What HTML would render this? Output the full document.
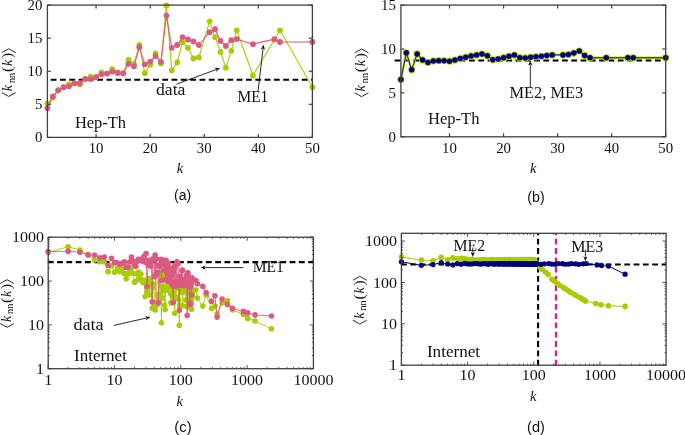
<!DOCTYPE html>
<html><head><meta charset="utf-8"><style>
html,body{margin:0;padding:0;background:#fff;overflow:hidden;}
svg{display:block;filter:blur(0.3px);}
</style></head><body>
<svg width="685" height="435" viewBox="0 0 685 435" fill="#111">
<rect width="685" height="435" fill="#fff"/>
<line x1="50.7" y1="79.8" x2="312.4" y2="79.8" stroke="#000" stroke-width="2.1" stroke-dasharray="5.8 3.5"/>
<polyline points="47.4,103.6 52.81,97.5 58.22,90.6 63.62,87.2 69.03,84.5 74.44,83.3 79.85,84.5 85.26,78.9 90.67,76.7 96.07,77.1 101.48,72.5 106.89,73.6 112.3,69.2 117.71,72.5 123.11,73.3 128.52,59.8 133.93,64 139.34,44.8 144.75,73.2 150.16,64.7 155.56,53.3 160.97,63.4 166.38,5.4 171.79,70.4 177.2,62.5 182.6,42.3 188.01,47.8 193.42,58.5 198.83,57.4 209.64,21.3 215.05,37.1 220.46,51.9 225.87,67.8 231.28,50.8 236.69,30.3 252.91,75.5 274.54,39.5 279.95,30.3 312.4,87.2" fill="none" stroke="#a8cc00" stroke-width="1.1" stroke-linejoin="round" />
<circle cx="47.4" cy="103.6" r="2.9" fill="#a8cc00" />
<circle cx="52.81" cy="97.5" r="2.9" fill="#a8cc00" />
<circle cx="58.22" cy="90.6" r="2.9" fill="#a8cc00" />
<circle cx="63.62" cy="87.2" r="2.9" fill="#a8cc00" />
<circle cx="69.03" cy="84.5" r="2.9" fill="#a8cc00" />
<circle cx="74.44" cy="83.3" r="2.9" fill="#a8cc00" />
<circle cx="79.85" cy="84.5" r="2.9" fill="#a8cc00" />
<circle cx="85.26" cy="78.9" r="2.9" fill="#a8cc00" />
<circle cx="90.67" cy="76.7" r="2.9" fill="#a8cc00" />
<circle cx="96.07" cy="77.1" r="2.9" fill="#a8cc00" />
<circle cx="101.48" cy="72.5" r="2.9" fill="#a8cc00" />
<circle cx="106.89" cy="73.6" r="2.9" fill="#a8cc00" />
<circle cx="112.3" cy="69.2" r="2.9" fill="#a8cc00" />
<circle cx="117.71" cy="72.5" r="2.9" fill="#a8cc00" />
<circle cx="123.11" cy="73.3" r="2.9" fill="#a8cc00" />
<circle cx="128.52" cy="59.8" r="2.9" fill="#a8cc00" />
<circle cx="133.93" cy="64" r="2.9" fill="#a8cc00" />
<circle cx="139.34" cy="44.8" r="2.9" fill="#a8cc00" />
<circle cx="144.75" cy="73.2" r="2.9" fill="#a8cc00" />
<circle cx="150.16" cy="64.7" r="2.9" fill="#a8cc00" />
<circle cx="155.56" cy="53.3" r="2.9" fill="#a8cc00" />
<circle cx="160.97" cy="63.4" r="2.9" fill="#a8cc00" />
<circle cx="166.38" cy="5.4" r="2.9" fill="#a8cc00" />
<circle cx="171.79" cy="70.4" r="2.9" fill="#a8cc00" />
<circle cx="177.2" cy="62.5" r="2.9" fill="#a8cc00" />
<circle cx="182.6" cy="42.3" r="2.9" fill="#a8cc00" />
<circle cx="188.01" cy="47.8" r="2.9" fill="#a8cc00" />
<circle cx="193.42" cy="58.5" r="2.9" fill="#a8cc00" />
<circle cx="198.83" cy="57.4" r="2.9" fill="#a8cc00" />
<circle cx="209.64" cy="21.3" r="2.9" fill="#a8cc00" />
<circle cx="215.05" cy="37.1" r="2.9" fill="#a8cc00" />
<circle cx="220.46" cy="51.9" r="2.9" fill="#a8cc00" />
<circle cx="225.87" cy="67.8" r="2.9" fill="#a8cc00" />
<circle cx="231.28" cy="50.8" r="2.9" fill="#a8cc00" />
<circle cx="236.69" cy="30.3" r="2.9" fill="#a8cc00" />
<circle cx="252.91" cy="75.5" r="2.9" fill="#a8cc00" />
<circle cx="274.54" cy="39.5" r="2.9" fill="#a8cc00" />
<circle cx="279.95" cy="30.3" r="2.9" fill="#a8cc00" />
<circle cx="312.4" cy="87.2" r="2.9" fill="#a8cc00" />
<polyline points="47.4,108.2 52.81,96.5 58.22,90.1 63.62,87.2 69.03,86.3 74.44,83.3 79.85,83.1 85.26,78.9 90.67,79.1 96.07,77.1 101.48,74.3 106.89,73.6 112.3,71.6 117.71,73 123.11,73.3 128.52,63.8 133.93,66.3 139.34,47.2 144.75,64.3 150.16,61.6 155.56,56.1 160.97,61.8 166.38,15.6 171.79,47.8 177.2,45 182.6,37.1 188.01,39.5 193.42,41.5 198.83,45 209.64,32.2 215.05,29.2 220.46,40.9 225.87,46 231.28,40.2 236.69,39.1 252.91,44.2 274.54,39.1 279.95,42 312.4,42" fill="none" stroke="#da5a82" stroke-width="1.1" stroke-linejoin="round" />
<circle cx="47.4" cy="108.2" r="2.9" fill="#da5a82" />
<circle cx="52.81" cy="96.5" r="2.9" fill="#da5a82" />
<circle cx="58.22" cy="90.1" r="2.9" fill="#da5a82" />
<circle cx="63.62" cy="87.2" r="2.9" fill="#da5a82" />
<circle cx="69.03" cy="86.3" r="2.9" fill="#da5a82" />
<circle cx="74.44" cy="83.3" r="2.9" fill="#da5a82" />
<circle cx="79.85" cy="83.1" r="2.9" fill="#da5a82" />
<circle cx="85.26" cy="78.9" r="2.9" fill="#da5a82" />
<circle cx="90.67" cy="79.1" r="2.9" fill="#da5a82" />
<circle cx="96.07" cy="77.1" r="2.9" fill="#da5a82" />
<circle cx="101.48" cy="74.3" r="2.9" fill="#da5a82" />
<circle cx="106.89" cy="73.6" r="2.9" fill="#da5a82" />
<circle cx="112.3" cy="71.6" r="2.9" fill="#da5a82" />
<circle cx="117.71" cy="73" r="2.9" fill="#da5a82" />
<circle cx="123.11" cy="73.3" r="2.9" fill="#da5a82" />
<circle cx="128.52" cy="63.8" r="2.9" fill="#da5a82" />
<circle cx="133.93" cy="66.3" r="2.9" fill="#da5a82" />
<circle cx="139.34" cy="47.2" r="2.9" fill="#da5a82" />
<circle cx="144.75" cy="64.3" r="2.9" fill="#da5a82" />
<circle cx="150.16" cy="61.6" r="2.9" fill="#da5a82" />
<circle cx="155.56" cy="56.1" r="2.9" fill="#da5a82" />
<circle cx="160.97" cy="61.8" r="2.9" fill="#da5a82" />
<circle cx="166.38" cy="15.6" r="2.9" fill="#da5a82" />
<circle cx="171.79" cy="47.8" r="2.9" fill="#da5a82" />
<circle cx="177.2" cy="45" r="2.9" fill="#da5a82" />
<circle cx="182.6" cy="37.1" r="2.9" fill="#da5a82" />
<circle cx="188.01" cy="39.5" r="2.9" fill="#da5a82" />
<circle cx="193.42" cy="41.5" r="2.9" fill="#da5a82" />
<circle cx="198.83" cy="45" r="2.9" fill="#da5a82" />
<circle cx="209.64" cy="32.2" r="2.9" fill="#da5a82" />
<circle cx="215.05" cy="29.2" r="2.9" fill="#da5a82" />
<circle cx="220.46" cy="40.9" r="2.9" fill="#da5a82" />
<circle cx="225.87" cy="46" r="2.9" fill="#da5a82" />
<circle cx="231.28" cy="40.2" r="2.9" fill="#da5a82" />
<circle cx="236.69" cy="39.1" r="2.9" fill="#da5a82" />
<circle cx="252.91" cy="44.2" r="2.9" fill="#da5a82" />
<circle cx="274.54" cy="39.1" r="2.9" fill="#da5a82" />
<circle cx="279.95" cy="42" r="2.9" fill="#da5a82" />
<circle cx="312.4" cy="42" r="2.9" fill="#da5a82" />
<g transform="translate(12.4,97.6) rotate(-90)" fill="#111"><polyline points="5.0,-10.6 1.2,-3.7 5.0,3.2" fill="none" stroke="#111" stroke-width="0.9"/><text x="6.4" y="0" font-family="Liberation Serif" font-style="italic" font-size="14">k</text><text x="14.6" y="2.4" font-family="Liberation Serif" font-size="11" textLength="10.2" lengthAdjust="spacingAndGlyphs">nn</text><text x="25.6" y="0" font-family="Liberation Serif" font-size="15.5">(</text><text x="31.6" y="0" font-family="Liberation Serif" font-style="italic" font-size="14">k</text><text x="39.6" y="0" font-family="Liberation Serif" font-size="15.5">)</text><polyline points="45.0,-10.6 48.8,-3.7 45.0,3.2" fill="none" stroke="#111" stroke-width="0.9"/></g>
<text x="180" y="172.5" font-family="Liberation Serif" font-size="14.5" text-anchor="middle" font-style="italic">k</text>
<text x="182.7" y="200.3" font-family="Liberation Sans" font-size="15.5" text-anchor="middle" textLength="17.2" lengthAdjust="spacingAndGlyphs">(a)</text>
<text x="74.9" y="128.4" font-family="Liberation Serif" font-size="16" text-anchor="start" textLength="51.2" lengthAdjust="spacingAndGlyphs">Hep-Th</text>
<text x="156" y="95.2" font-family="Liberation Serif" font-size="16" text-anchor="start" textLength="29.4" lengthAdjust="spacingAndGlyphs">data</text>
<text x="237.5" y="101.9" font-family="Liberation Serif" font-size="16" text-anchor="start" textLength="30.8" lengthAdjust="spacingAndGlyphs">ME1</text>
<line x1="176.4" y1="84.2" x2="215.88" y2="69.66" stroke="#111" stroke-width="0.9" />
<polygon points="220.1,68.1 216.13,71.8 216.53,69.41 214.68,67.86" fill="#111"/>
<line x1="258" y1="91.4" x2="262.97" y2="49.27" stroke="#111" stroke-width="0.9" />
<polygon points="263.5,44.8 265,50.01 263.05,48.57 260.83,49.52" fill="#111"/>
<rect x="47.4" y="5.1" width="265" height="132.3" fill="none" stroke="#404040" stroke-width="1.3"/>
<line x1="96.07" y1="137.4" x2="96.07" y2="133.9" stroke="#404040" stroke-width="1.2" />
<line x1="96.07" y1="5.1" x2="96.07" y2="8.6" stroke="#404040" stroke-width="1.2" />
<text x="96.07" y="152.6" font-family="Liberation Serif" font-size="14" text-anchor="middle" textLength="14.8" lengthAdjust="spacingAndGlyphs">10</text>
<line x1="150.16" y1="137.4" x2="150.16" y2="133.9" stroke="#404040" stroke-width="1.2" />
<line x1="150.16" y1="5.1" x2="150.16" y2="8.6" stroke="#404040" stroke-width="1.2" />
<text x="150.16" y="152.6" font-family="Liberation Serif" font-size="14" text-anchor="middle" textLength="14.8" lengthAdjust="spacingAndGlyphs">20</text>
<line x1="204.24" y1="137.4" x2="204.24" y2="133.9" stroke="#404040" stroke-width="1.2" />
<line x1="204.24" y1="5.1" x2="204.24" y2="8.6" stroke="#404040" stroke-width="1.2" />
<text x="204.24" y="152.6" font-family="Liberation Serif" font-size="14" text-anchor="middle" textLength="14.8" lengthAdjust="spacingAndGlyphs">30</text>
<line x1="258.32" y1="137.4" x2="258.32" y2="133.9" stroke="#404040" stroke-width="1.2" />
<line x1="258.32" y1="5.1" x2="258.32" y2="8.6" stroke="#404040" stroke-width="1.2" />
<text x="258.32" y="152.6" font-family="Liberation Serif" font-size="14" text-anchor="middle" textLength="14.8" lengthAdjust="spacingAndGlyphs">40</text>
<line x1="312.4" y1="137.4" x2="312.4" y2="133.9" stroke="#404040" stroke-width="1.2" />
<line x1="312.4" y1="5.1" x2="312.4" y2="8.6" stroke="#404040" stroke-width="1.2" />
<text x="312.4" y="152.6" font-family="Liberation Serif" font-size="14" text-anchor="middle" textLength="14.8" lengthAdjust="spacingAndGlyphs">50</text>
<line x1="47.4" y1="137.4" x2="50.9" y2="137.4" stroke="#404040" stroke-width="1.2" />
<line x1="312.4" y1="137.4" x2="308.9" y2="137.4" stroke="#404040" stroke-width="1.2" />
<text x="42.4" y="142.2" font-family="Liberation Serif" font-size="14" text-anchor="end" textLength="7.4" lengthAdjust="spacingAndGlyphs">0</text>
<line x1="47.4" y1="104.33" x2="50.9" y2="104.33" stroke="#404040" stroke-width="1.2" />
<line x1="312.4" y1="104.33" x2="308.9" y2="104.33" stroke="#404040" stroke-width="1.2" />
<text x="42.4" y="109.12" font-family="Liberation Serif" font-size="14" text-anchor="end" textLength="7.4" lengthAdjust="spacingAndGlyphs">5</text>
<line x1="47.4" y1="71.25" x2="50.9" y2="71.25" stroke="#404040" stroke-width="1.2" />
<line x1="312.4" y1="71.25" x2="308.9" y2="71.25" stroke="#404040" stroke-width="1.2" />
<text x="42.4" y="76.05" font-family="Liberation Serif" font-size="14" text-anchor="end" textLength="14.8" lengthAdjust="spacingAndGlyphs">10</text>
<line x1="47.4" y1="38.17" x2="50.9" y2="38.17" stroke="#404040" stroke-width="1.2" />
<line x1="312.4" y1="38.17" x2="308.9" y2="38.17" stroke="#404040" stroke-width="1.2" />
<text x="42.4" y="42.97" font-family="Liberation Serif" font-size="14" text-anchor="end" textLength="14.8" lengthAdjust="spacingAndGlyphs">15</text>
<line x1="47.4" y1="5.1" x2="50.9" y2="5.1" stroke="#404040" stroke-width="1.2" />
<line x1="312.4" y1="5.1" x2="308.9" y2="5.1" stroke="#404040" stroke-width="1.2" />
<text x="42.4" y="9.9" font-family="Liberation Serif" font-size="14" text-anchor="end" textLength="14.8" lengthAdjust="spacingAndGlyphs">20</text>
<line x1="394.6" y1="60.5" x2="664" y2="60.5" stroke="#000" stroke-width="2.1" stroke-dasharray="5.8 3.5"/>
<polyline points="400.9,79.6 406.3,52.8 411.71,69.8 417.11,53.9 422.52,59.9 427.92,62.5 433.32,60.9 438.73,60.7 444.13,60.7 449.54,61.2 454.94,60.1 460.34,58.6 465.75,57.2 471.15,55.9 476.56,55.1 481.96,54 487.37,55.8 492.77,59.8 498.17,59.1 503.58,57.7 508.98,56.3 514.39,55.1 519.79,57.7 525.19,58 530.6,57.2 536,56.8 541.41,56.3 546.81,55.5 552.21,54.9 563.02,54.9 568.43,54.5 573.83,53.1 579.23,51 584.64,55.5 590.04,57.8 606.26,57.8 627.87,57.8 633.28,57.8 665.7,57.8" fill="none" stroke="#b8dc00" stroke-width="2.4" stroke-linejoin="round" />
<circle cx="400.9" cy="79.6" r="3.6" fill="#b8dc00" />
<circle cx="406.3" cy="52.8" r="3.6" fill="#b8dc00" />
<circle cx="411.71" cy="69.8" r="3.6" fill="#b8dc00" />
<circle cx="417.11" cy="53.9" r="3.6" fill="#b8dc00" />
<circle cx="422.52" cy="59.9" r="3.6" fill="#b8dc00" />
<circle cx="427.92" cy="62.5" r="3.6" fill="#b8dc00" />
<circle cx="433.32" cy="60.9" r="3.6" fill="#b8dc00" />
<circle cx="438.73" cy="60.7" r="3.6" fill="#b8dc00" />
<circle cx="444.13" cy="60.7" r="3.6" fill="#b8dc00" />
<circle cx="449.54" cy="61.2" r="3.6" fill="#b8dc00" />
<circle cx="454.94" cy="60.1" r="3.6" fill="#b8dc00" />
<circle cx="460.34" cy="58.6" r="3.6" fill="#b8dc00" />
<circle cx="465.75" cy="57.2" r="3.6" fill="#b8dc00" />
<circle cx="471.15" cy="55.9" r="3.6" fill="#b8dc00" />
<circle cx="476.56" cy="55.1" r="3.6" fill="#b8dc00" />
<circle cx="481.96" cy="54" r="3.6" fill="#b8dc00" />
<circle cx="487.37" cy="55.8" r="3.6" fill="#b8dc00" />
<circle cx="492.77" cy="59.8" r="3.6" fill="#b8dc00" />
<circle cx="498.17" cy="59.1" r="3.6" fill="#b8dc00" />
<circle cx="503.58" cy="57.7" r="3.6" fill="#b8dc00" />
<circle cx="508.98" cy="56.3" r="3.6" fill="#b8dc00" />
<circle cx="514.39" cy="55.1" r="3.6" fill="#b8dc00" />
<circle cx="519.79" cy="57.7" r="3.6" fill="#b8dc00" />
<circle cx="525.19" cy="58" r="3.6" fill="#b8dc00" />
<circle cx="530.6" cy="57.2" r="3.6" fill="#b8dc00" />
<circle cx="536" cy="56.8" r="3.6" fill="#b8dc00" />
<circle cx="541.41" cy="56.3" r="3.6" fill="#b8dc00" />
<circle cx="546.81" cy="55.5" r="3.6" fill="#b8dc00" />
<circle cx="552.21" cy="54.9" r="3.6" fill="#b8dc00" />
<circle cx="563.02" cy="54.9" r="3.6" fill="#b8dc00" />
<circle cx="568.43" cy="54.5" r="3.6" fill="#b8dc00" />
<circle cx="573.83" cy="53.1" r="3.6" fill="#b8dc00" />
<circle cx="579.23" cy="51" r="3.6" fill="#b8dc00" />
<circle cx="584.64" cy="55.5" r="3.6" fill="#b8dc00" />
<circle cx="590.04" cy="57.8" r="3.6" fill="#b8dc00" />
<circle cx="606.26" cy="57.8" r="3.6" fill="#b8dc00" />
<circle cx="627.87" cy="57.8" r="3.6" fill="#b8dc00" />
<circle cx="633.28" cy="57.8" r="3.6" fill="#b8dc00" />
<circle cx="665.7" cy="57.8" r="3.6" fill="#b8dc00" />
<polyline points="400.9,79.6 406.3,52.8 411.71,69.8 417.11,53.9 422.52,59.9 427.92,62.5 433.32,60.9 438.73,60.7 444.13,60.7 449.54,61.2 454.94,60.1 460.34,58.6 465.75,57.2 471.15,55.9 476.56,55.1 481.96,54 487.37,55.8 492.77,59.8 498.17,59.1 503.58,57.7 508.98,56.3 514.39,55.1 519.79,57.7 525.19,58 530.6,57.2 536,56.8 541.41,56.3 546.81,55.5 552.21,54.9 563.02,54.9 568.43,54.5 573.83,53.1 579.23,51 584.64,55.5 590.04,57.8 606.26,57.8 627.87,57.8 633.28,57.8 665.7,57.8" fill="none" stroke="#03037a" stroke-width="0.9" stroke-linejoin="round" />
<circle cx="400.9" cy="79.6" r="2.75" fill="#03037a" />
<circle cx="406.3" cy="52.8" r="2.75" fill="#03037a" />
<circle cx="411.71" cy="69.8" r="2.75" fill="#03037a" />
<circle cx="417.11" cy="53.9" r="2.75" fill="#03037a" />
<circle cx="422.52" cy="59.9" r="2.75" fill="#03037a" />
<circle cx="427.92" cy="62.5" r="2.75" fill="#03037a" />
<circle cx="433.32" cy="60.9" r="2.75" fill="#03037a" />
<circle cx="438.73" cy="60.7" r="2.75" fill="#03037a" />
<circle cx="444.13" cy="60.7" r="2.75" fill="#03037a" />
<circle cx="449.54" cy="61.2" r="2.75" fill="#03037a" />
<circle cx="454.94" cy="60.1" r="2.75" fill="#03037a" />
<circle cx="460.34" cy="58.6" r="2.75" fill="#03037a" />
<circle cx="465.75" cy="57.2" r="2.75" fill="#03037a" />
<circle cx="471.15" cy="55.9" r="2.75" fill="#03037a" />
<circle cx="476.56" cy="55.1" r="2.75" fill="#03037a" />
<circle cx="481.96" cy="54" r="2.75" fill="#03037a" />
<circle cx="487.37" cy="55.8" r="2.75" fill="#03037a" />
<circle cx="492.77" cy="59.8" r="2.75" fill="#03037a" />
<circle cx="498.17" cy="59.1" r="2.75" fill="#03037a" />
<circle cx="503.58" cy="57.7" r="2.75" fill="#03037a" />
<circle cx="508.98" cy="56.3" r="2.75" fill="#03037a" />
<circle cx="514.39" cy="55.1" r="2.75" fill="#03037a" />
<circle cx="519.79" cy="57.7" r="2.75" fill="#03037a" />
<circle cx="525.19" cy="58" r="2.75" fill="#03037a" />
<circle cx="530.6" cy="57.2" r="2.75" fill="#03037a" />
<circle cx="536" cy="56.8" r="2.75" fill="#03037a" />
<circle cx="541.41" cy="56.3" r="2.75" fill="#03037a" />
<circle cx="546.81" cy="55.5" r="2.75" fill="#03037a" />
<circle cx="552.21" cy="54.9" r="2.75" fill="#03037a" />
<circle cx="563.02" cy="54.9" r="2.75" fill="#03037a" />
<circle cx="568.43" cy="54.5" r="2.75" fill="#03037a" />
<circle cx="573.83" cy="53.1" r="2.75" fill="#03037a" />
<circle cx="579.23" cy="51" r="2.75" fill="#03037a" />
<circle cx="584.64" cy="55.5" r="2.75" fill="#03037a" />
<circle cx="590.04" cy="57.8" r="2.75" fill="#03037a" />
<circle cx="606.26" cy="57.8" r="2.75" fill="#03037a" />
<circle cx="627.87" cy="57.8" r="2.75" fill="#03037a" />
<circle cx="633.28" cy="57.8" r="2.75" fill="#03037a" />
<circle cx="665.7" cy="57.8" r="2.75" fill="#03037a" />
<g transform="translate(365.3,97.8) rotate(-90)" fill="#111"><polyline points="5.0,-10.6 1.2,-3.7 5.0,3.2" fill="none" stroke="#111" stroke-width="0.9"/><text x="6.4" y="0" font-family="Liberation Serif" font-style="italic" font-size="14">k</text><text x="14.6" y="2.4" font-family="Liberation Serif" font-size="11" textLength="10.2" lengthAdjust="spacingAndGlyphs">nn</text><text x="25.6" y="0" font-family="Liberation Serif" font-size="15.5">(</text><text x="31.6" y="0" font-family="Liberation Serif" font-style="italic" font-size="14">k</text><text x="39.6" y="0" font-family="Liberation Serif" font-size="15.5">)</text><polyline points="45.0,-10.6 48.8,-3.7 45.0,3.2" fill="none" stroke="#111" stroke-width="0.9"/></g>
<text x="533.2" y="172.5" font-family="Liberation Serif" font-size="14.5" text-anchor="middle" font-style="italic">k</text>
<text x="536" y="202" font-family="Liberation Sans" font-size="15.5" text-anchor="middle" textLength="17.3" lengthAdjust="spacingAndGlyphs">(b)</text>
<text x="428" y="123.9" font-family="Liberation Serif" font-size="16" text-anchor="start" textLength="51.4" lengthAdjust="spacingAndGlyphs">Hep-Th</text>
<text x="509.5" y="97.5" font-family="Liberation Serif" font-size="16" text-anchor="start" textLength="73.7" lengthAdjust="spacingAndGlyphs">ME2, ME3</text>
<line x1="530.3" y1="87.7" x2="530.3" y2="65.1" stroke="#111" stroke-width="0.9" />
<polygon points="530.3,60.6 532.4,65.6 530.3,64.4 528.2,65.6" fill="#111"/>
<rect x="400.9" y="5.1" width="264.8" height="131.7" fill="none" stroke="#404040" stroke-width="1.3"/>
<line x1="449.54" y1="136.8" x2="449.54" y2="133.3" stroke="#404040" stroke-width="1.2" />
<line x1="449.54" y1="5.1" x2="449.54" y2="8.6" stroke="#404040" stroke-width="1.2" />
<text x="449.54" y="152.6" font-family="Liberation Serif" font-size="14" text-anchor="middle" textLength="14.8" lengthAdjust="spacingAndGlyphs">10</text>
<line x1="503.58" y1="136.8" x2="503.58" y2="133.3" stroke="#404040" stroke-width="1.2" />
<line x1="503.58" y1="5.1" x2="503.58" y2="8.6" stroke="#404040" stroke-width="1.2" />
<text x="503.58" y="152.6" font-family="Liberation Serif" font-size="14" text-anchor="middle" textLength="14.8" lengthAdjust="spacingAndGlyphs">20</text>
<line x1="557.62" y1="136.8" x2="557.62" y2="133.3" stroke="#404040" stroke-width="1.2" />
<line x1="557.62" y1="5.1" x2="557.62" y2="8.6" stroke="#404040" stroke-width="1.2" />
<text x="557.62" y="152.6" font-family="Liberation Serif" font-size="14" text-anchor="middle" textLength="14.8" lengthAdjust="spacingAndGlyphs">30</text>
<line x1="611.66" y1="136.8" x2="611.66" y2="133.3" stroke="#404040" stroke-width="1.2" />
<line x1="611.66" y1="5.1" x2="611.66" y2="8.6" stroke="#404040" stroke-width="1.2" />
<text x="611.66" y="152.6" font-family="Liberation Serif" font-size="14" text-anchor="middle" textLength="14.8" lengthAdjust="spacingAndGlyphs">40</text>
<line x1="665.7" y1="136.8" x2="665.7" y2="133.3" stroke="#404040" stroke-width="1.2" />
<line x1="665.7" y1="5.1" x2="665.7" y2="8.6" stroke="#404040" stroke-width="1.2" />
<text x="665.7" y="152.6" font-family="Liberation Serif" font-size="14" text-anchor="middle" textLength="14.8" lengthAdjust="spacingAndGlyphs">50</text>
<line x1="400.9" y1="136.8" x2="404.4" y2="136.8" stroke="#404040" stroke-width="1.2" />
<line x1="665.7" y1="136.8" x2="662.2" y2="136.8" stroke="#404040" stroke-width="1.2" />
<text x="395.8" y="141.6" font-family="Liberation Serif" font-size="14" text-anchor="end" textLength="7.4" lengthAdjust="spacingAndGlyphs">0</text>
<line x1="400.9" y1="92.9" x2="404.4" y2="92.9" stroke="#404040" stroke-width="1.2" />
<line x1="665.7" y1="92.9" x2="662.2" y2="92.9" stroke="#404040" stroke-width="1.2" />
<text x="395.8" y="97.7" font-family="Liberation Serif" font-size="14" text-anchor="end" textLength="7.4" lengthAdjust="spacingAndGlyphs">5</text>
<line x1="400.9" y1="49" x2="404.4" y2="49" stroke="#404040" stroke-width="1.2" />
<line x1="665.7" y1="49" x2="662.2" y2="49" stroke="#404040" stroke-width="1.2" />
<text x="395.8" y="53.8" font-family="Liberation Serif" font-size="14" text-anchor="end" textLength="14.8" lengthAdjust="spacingAndGlyphs">10</text>
<line x1="400.9" y1="5.1" x2="404.4" y2="5.1" stroke="#404040" stroke-width="1.2" />
<line x1="665.7" y1="5.1" x2="662.2" y2="5.1" stroke="#404040" stroke-width="1.2" />
<text x="395.8" y="9.9" font-family="Liberation Serif" font-size="14" text-anchor="end" textLength="14.8" lengthAdjust="spacingAndGlyphs">15</text>
<line x1="47.8" y1="262.1" x2="313.4" y2="262.1" stroke="#000" stroke-width="2.1" stroke-dasharray="5.8 3.5"/>
<polyline points="48.2,252.3 68.16,246.7 79.83,250.1 88.12,254.5 94.54,260 99.79,261.8 104.23,261.86 108.07,271.75 111.47,266.07 114.5,272.2 117.24,268.48 119.75,271.61 122.05,269.33 124.19,273.41 126.17,278.8 128.03,274 129.78,270.7 131.42,267.75 132.98,273.29 134.46,282.19 135.86,281.26 137.2,274 138.48,272.06 139.71,278.64 140.88,274.14 142.01,281.01 143.1,282.72 144.15,279.94 145.16,296.53 146.13,281.86 147.08,292.29 147.99,284.89 148.88,278.54 149.74,294.85 150.57,283.72 151.38,283.61 152.17,308.3 152.94,287.57 153.69,284.01 154.42,303.24 155.13,309.89 155.82,274.89 156.5,303.02 157.16,304.93 157.81,294.98 158.44,297 159.06,294.24 159.67,274.78 160.26,272.28 160.84,275.27 161.41,322.8 161.97,286.4 162.52,297.89 163.06,290.23 163.59,276.85 164.1,276.79 164.61,304.99 165.12,309.6 165.61,287.73 166.09,290.21 166.57,273.97 167.04,288.27 167.5,275.85 167.95,285.59 168.4,276.65 168.84,275.94 169.27,283.88 169.7,287.37 170.12,282.98 170.53,293.38 170.94,302.82 171.34,302.72 171.74,293.94 172.13,296.23 172.52,288.22 173.27,288.01 173.65,287.21 174.01,285.46 174.73,313.3 175.09,289.39 175.78,297 176.12,298.21 176.46,281.85 176.79,283.53 178.08,287.26 178.71,299.79 179.32,325.2 179.62,305.52 179.92,287.36 180.51,287.49 180.8,282.69 181.93,292.05 182.2,290.13 182.48,291.91 182.75,305.78 183.02,290.39 183.8,289.98 186.05,299.95 186.53,306.61 186.76,291.89 186.99,288.96 187.23,287.17 187.45,289.76 187.68,299.43 187.91,306.5 188.58,300.31 188.79,292.73 189.86,299.25 190.69,307.75 190.9,289.57 191.3,301.61 191.5,309.25 191.7,291.22 191.89,297.42 192.5,295 195.8,290 197.4,298.1 202.8,306.1 206.1,294.7 211.6,308.5 214.9,306 217.1,314 222.1,303 227.4,300.9 232.4,310 243.4,314.4 247.7,318.4 255,321 271.4,328.7" fill="none" stroke="#a8cc00" stroke-width="0.9" stroke-linejoin="round" />
<circle cx="48.2" cy="252.3" r="2.8" fill="#a8cc00" />
<circle cx="68.16" cy="246.7" r="2.8" fill="#a8cc00" />
<circle cx="79.83" cy="250.1" r="2.8" fill="#a8cc00" />
<circle cx="88.12" cy="254.5" r="2.8" fill="#a8cc00" />
<circle cx="94.54" cy="260" r="2.8" fill="#a8cc00" />
<circle cx="99.79" cy="261.8" r="2.8" fill="#a8cc00" />
<circle cx="104.23" cy="261.86" r="2.8" fill="#a8cc00" />
<circle cx="108.07" cy="271.75" r="2.8" fill="#a8cc00" />
<circle cx="111.47" cy="266.07" r="2.8" fill="#a8cc00" />
<circle cx="114.5" cy="272.2" r="2.8" fill="#a8cc00" />
<circle cx="117.24" cy="268.48" r="2.8" fill="#a8cc00" />
<circle cx="119.75" cy="271.61" r="2.8" fill="#a8cc00" />
<circle cx="122.05" cy="269.33" r="2.8" fill="#a8cc00" />
<circle cx="124.19" cy="273.41" r="2.8" fill="#a8cc00" />
<circle cx="126.17" cy="278.8" r="2.8" fill="#a8cc00" />
<circle cx="128.03" cy="274" r="2.8" fill="#a8cc00" />
<circle cx="129.78" cy="270.7" r="2.8" fill="#a8cc00" />
<circle cx="131.42" cy="267.75" r="2.8" fill="#a8cc00" />
<circle cx="132.98" cy="273.29" r="2.8" fill="#a8cc00" />
<circle cx="134.46" cy="282.19" r="2.8" fill="#a8cc00" />
<circle cx="135.86" cy="281.26" r="2.8" fill="#a8cc00" />
<circle cx="137.2" cy="274" r="2.8" fill="#a8cc00" />
<circle cx="138.48" cy="272.06" r="2.8" fill="#a8cc00" />
<circle cx="139.71" cy="278.64" r="2.8" fill="#a8cc00" />
<circle cx="140.88" cy="274.14" r="2.8" fill="#a8cc00" />
<circle cx="142.01" cy="281.01" r="2.8" fill="#a8cc00" />
<circle cx="143.1" cy="282.72" r="2.8" fill="#a8cc00" />
<circle cx="144.15" cy="279.94" r="2.8" fill="#a8cc00" />
<circle cx="145.16" cy="296.53" r="2.8" fill="#a8cc00" />
<circle cx="146.13" cy="281.86" r="2.8" fill="#a8cc00" />
<circle cx="147.08" cy="292.29" r="2.8" fill="#a8cc00" />
<circle cx="147.99" cy="284.89" r="2.8" fill="#a8cc00" />
<circle cx="148.88" cy="278.54" r="2.8" fill="#a8cc00" />
<circle cx="149.74" cy="294.85" r="2.8" fill="#a8cc00" />
<circle cx="150.57" cy="283.72" r="2.8" fill="#a8cc00" />
<circle cx="151.38" cy="283.61" r="2.8" fill="#a8cc00" />
<circle cx="152.17" cy="308.3" r="2.8" fill="#a8cc00" />
<circle cx="152.94" cy="287.57" r="2.8" fill="#a8cc00" />
<circle cx="153.69" cy="284.01" r="2.8" fill="#a8cc00" />
<circle cx="154.42" cy="303.24" r="2.8" fill="#a8cc00" />
<circle cx="155.13" cy="309.89" r="2.8" fill="#a8cc00" />
<circle cx="155.82" cy="274.89" r="2.8" fill="#a8cc00" />
<circle cx="156.5" cy="303.02" r="2.8" fill="#a8cc00" />
<circle cx="157.16" cy="304.93" r="2.8" fill="#a8cc00" />
<circle cx="157.81" cy="294.98" r="2.8" fill="#a8cc00" />
<circle cx="158.44" cy="297" r="2.8" fill="#a8cc00" />
<circle cx="159.06" cy="294.24" r="2.8" fill="#a8cc00" />
<circle cx="159.67" cy="274.78" r="2.8" fill="#a8cc00" />
<circle cx="160.26" cy="272.28" r="2.8" fill="#a8cc00" />
<circle cx="160.84" cy="275.27" r="2.8" fill="#a8cc00" />
<circle cx="161.41" cy="322.8" r="2.8" fill="#a8cc00" />
<circle cx="161.97" cy="286.4" r="2.8" fill="#a8cc00" />
<circle cx="162.52" cy="297.89" r="2.8" fill="#a8cc00" />
<circle cx="163.06" cy="290.23" r="2.8" fill="#a8cc00" />
<circle cx="163.59" cy="276.85" r="2.8" fill="#a8cc00" />
<circle cx="164.1" cy="276.79" r="2.8" fill="#a8cc00" />
<circle cx="164.61" cy="304.99" r="2.8" fill="#a8cc00" />
<circle cx="165.12" cy="309.6" r="2.8" fill="#a8cc00" />
<circle cx="165.61" cy="287.73" r="2.8" fill="#a8cc00" />
<circle cx="166.09" cy="290.21" r="2.8" fill="#a8cc00" />
<circle cx="166.57" cy="273.97" r="2.8" fill="#a8cc00" />
<circle cx="167.04" cy="288.27" r="2.8" fill="#a8cc00" />
<circle cx="167.5" cy="275.85" r="2.8" fill="#a8cc00" />
<circle cx="167.95" cy="285.59" r="2.8" fill="#a8cc00" />
<circle cx="168.4" cy="276.65" r="2.8" fill="#a8cc00" />
<circle cx="168.84" cy="275.94" r="2.8" fill="#a8cc00" />
<circle cx="169.27" cy="283.88" r="2.8" fill="#a8cc00" />
<circle cx="169.7" cy="287.37" r="2.8" fill="#a8cc00" />
<circle cx="170.12" cy="282.98" r="2.8" fill="#a8cc00" />
<circle cx="170.53" cy="293.38" r="2.8" fill="#a8cc00" />
<circle cx="170.94" cy="302.82" r="2.8" fill="#a8cc00" />
<circle cx="171.34" cy="302.72" r="2.8" fill="#a8cc00" />
<circle cx="171.74" cy="293.94" r="2.8" fill="#a8cc00" />
<circle cx="172.13" cy="296.23" r="2.8" fill="#a8cc00" />
<circle cx="172.52" cy="288.22" r="2.8" fill="#a8cc00" />
<circle cx="173.27" cy="288.01" r="2.8" fill="#a8cc00" />
<circle cx="173.65" cy="287.21" r="2.8" fill="#a8cc00" />
<circle cx="174.01" cy="285.46" r="2.8" fill="#a8cc00" />
<circle cx="174.73" cy="313.3" r="2.8" fill="#a8cc00" />
<circle cx="175.09" cy="289.39" r="2.8" fill="#a8cc00" />
<circle cx="175.78" cy="297" r="2.8" fill="#a8cc00" />
<circle cx="176.12" cy="298.21" r="2.8" fill="#a8cc00" />
<circle cx="176.46" cy="281.85" r="2.8" fill="#a8cc00" />
<circle cx="176.79" cy="283.53" r="2.8" fill="#a8cc00" />
<circle cx="178.08" cy="287.26" r="2.8" fill="#a8cc00" />
<circle cx="178.71" cy="299.79" r="2.8" fill="#a8cc00" />
<circle cx="179.32" cy="325.2" r="2.8" fill="#a8cc00" />
<circle cx="179.62" cy="305.52" r="2.8" fill="#a8cc00" />
<circle cx="179.92" cy="287.36" r="2.8" fill="#a8cc00" />
<circle cx="180.51" cy="287.49" r="2.8" fill="#a8cc00" />
<circle cx="180.8" cy="282.69" r="2.8" fill="#a8cc00" />
<circle cx="181.93" cy="292.05" r="2.8" fill="#a8cc00" />
<circle cx="182.2" cy="290.13" r="2.8" fill="#a8cc00" />
<circle cx="182.48" cy="291.91" r="2.8" fill="#a8cc00" />
<circle cx="182.75" cy="305.78" r="2.8" fill="#a8cc00" />
<circle cx="183.02" cy="290.39" r="2.8" fill="#a8cc00" />
<circle cx="183.8" cy="289.98" r="2.8" fill="#a8cc00" />
<circle cx="186.05" cy="299.95" r="2.8" fill="#a8cc00" />
<circle cx="186.53" cy="306.61" r="2.8" fill="#a8cc00" />
<circle cx="186.76" cy="291.89" r="2.8" fill="#a8cc00" />
<circle cx="186.99" cy="288.96" r="2.8" fill="#a8cc00" />
<circle cx="187.23" cy="287.17" r="2.8" fill="#a8cc00" />
<circle cx="187.45" cy="289.76" r="2.8" fill="#a8cc00" />
<circle cx="187.68" cy="299.43" r="2.8" fill="#a8cc00" />
<circle cx="187.91" cy="306.5" r="2.8" fill="#a8cc00" />
<circle cx="188.58" cy="300.31" r="2.8" fill="#a8cc00" />
<circle cx="188.79" cy="292.73" r="2.8" fill="#a8cc00" />
<circle cx="189.86" cy="299.25" r="2.8" fill="#a8cc00" />
<circle cx="190.69" cy="307.75" r="2.8" fill="#a8cc00" />
<circle cx="190.9" cy="289.57" r="2.8" fill="#a8cc00" />
<circle cx="191.3" cy="301.61" r="2.8" fill="#a8cc00" />
<circle cx="191.5" cy="309.25" r="2.8" fill="#a8cc00" />
<circle cx="191.7" cy="291.22" r="2.8" fill="#a8cc00" />
<circle cx="191.89" cy="297.42" r="2.8" fill="#a8cc00" />
<circle cx="192.5" cy="295" r="2.8" fill="#a8cc00" />
<circle cx="195.8" cy="290" r="2.8" fill="#a8cc00" />
<circle cx="197.4" cy="298.1" r="2.8" fill="#a8cc00" />
<circle cx="202.8" cy="306.1" r="2.8" fill="#a8cc00" />
<circle cx="206.1" cy="294.7" r="2.8" fill="#a8cc00" />
<circle cx="211.6" cy="308.5" r="2.8" fill="#a8cc00" />
<circle cx="214.9" cy="306" r="2.8" fill="#a8cc00" />
<circle cx="217.1" cy="314" r="2.8" fill="#a8cc00" />
<circle cx="222.1" cy="303" r="2.8" fill="#a8cc00" />
<circle cx="227.4" cy="300.9" r="2.8" fill="#a8cc00" />
<circle cx="232.4" cy="310" r="2.8" fill="#a8cc00" />
<circle cx="243.4" cy="314.4" r="2.8" fill="#a8cc00" />
<circle cx="247.7" cy="318.4" r="2.8" fill="#a8cc00" />
<circle cx="255" cy="321" r="2.8" fill="#a8cc00" />
<circle cx="271.4" cy="328.7" r="2.8" fill="#a8cc00" />
<polyline points="48.2,251.6 68.16,251.2 79.83,252.2 88.12,254.9 94.54,255.1 99.79,257.78 104.23,257.03 108.07,265.26 111.47,258.34 114.5,262.64 117.24,262.68 119.75,264.31 122.05,263.42 124.19,261.85 126.17,267.16 128.03,267.15 129.78,261.71 131.42,256.95 132.98,260.96 134.46,263.96 135.86,266.22 137.2,261.13 138.48,259.32 139.71,259.92 140.88,260.41 142.01,260.65 143.1,257.75 144.15,256.23 145.16,262.27 146.13,253.5 147.08,286.7 147.99,264.71 148.88,260.38 149.74,261.16 150.57,265.88 151.38,260.35 152.17,301.8 152.94,258.88 153.69,259.29 154.42,276.67 155.13,254.99 155.82,274.6 156.5,258.97 157.16,272.52 157.81,272.48 158.44,302.4 159.06,265.04 159.67,266.59 160.26,264.51 160.84,259.18 161.41,280.56 161.97,261.6 162.52,261.75 163.06,259.96 163.59,261.48 164.1,270.23 164.61,265.24 165.12,261.02 165.61,279.29 166.09,260.41 166.57,272.42 167.04,262.92 167.5,281.26 167.95,266.77 168.4,262.97 168.84,274.79 169.27,270.12 169.7,271.13 170.12,280.07 170.53,269.37 170.94,268.11 171.34,282.5 171.74,275.84 172.13,284.65 172.52,282.97 173.27,302.39 173.65,271.87 174.01,285.85 174.73,267.49 175.09,265.64 175.78,285.94 176.12,281.93 176.46,281.71 176.79,261.87 178.08,263.63 178.71,281.02 179.32,310.3 179.62,276.15 179.92,285.26 180.51,284.03 180.8,284.67 181.93,270.61 182.2,284.57 182.48,269.99 182.75,279.64 183.02,280.83 183.8,285.53 186.05,280.83 186.53,277.49 186.76,275 186.99,279.27 187.23,315.5 187.45,273.19 187.68,273.93 187.91,272.9 188.58,287 188.79,283.02 189.86,303.6 190.69,304.39 190.9,286.48 191.3,282.13 191.5,294.7 191.7,282.77 191.89,277.78 192.5,279 195.8,280.5 197.4,283.8 202.8,286.4 206.1,292.6 211.6,301.3 214.9,295.8 217.1,317.1 222.1,299.1 227.4,304.6 232.4,308.3 243.4,311.4 247.7,312.9 255,314.9 271.4,316" fill="none" stroke="#da5a82" stroke-width="0.9" stroke-linejoin="round" />
<circle cx="48.2" cy="251.6" r="2.8" fill="#da5a82" />
<circle cx="68.16" cy="251.2" r="2.8" fill="#da5a82" />
<circle cx="79.83" cy="252.2" r="2.8" fill="#da5a82" />
<circle cx="88.12" cy="254.9" r="2.8" fill="#da5a82" />
<circle cx="94.54" cy="255.1" r="2.8" fill="#da5a82" />
<circle cx="99.79" cy="257.78" r="2.8" fill="#da5a82" />
<circle cx="104.23" cy="257.03" r="2.8" fill="#da5a82" />
<circle cx="108.07" cy="265.26" r="2.8" fill="#da5a82" />
<circle cx="111.47" cy="258.34" r="2.8" fill="#da5a82" />
<circle cx="114.5" cy="262.64" r="2.8" fill="#da5a82" />
<circle cx="117.24" cy="262.68" r="2.8" fill="#da5a82" />
<circle cx="119.75" cy="264.31" r="2.8" fill="#da5a82" />
<circle cx="122.05" cy="263.42" r="2.8" fill="#da5a82" />
<circle cx="124.19" cy="261.85" r="2.8" fill="#da5a82" />
<circle cx="126.17" cy="267.16" r="2.8" fill="#da5a82" />
<circle cx="128.03" cy="267.15" r="2.8" fill="#da5a82" />
<circle cx="129.78" cy="261.71" r="2.8" fill="#da5a82" />
<circle cx="131.42" cy="256.95" r="2.8" fill="#da5a82" />
<circle cx="132.98" cy="260.96" r="2.8" fill="#da5a82" />
<circle cx="134.46" cy="263.96" r="2.8" fill="#da5a82" />
<circle cx="135.86" cy="266.22" r="2.8" fill="#da5a82" />
<circle cx="137.2" cy="261.13" r="2.8" fill="#da5a82" />
<circle cx="138.48" cy="259.32" r="2.8" fill="#da5a82" />
<circle cx="139.71" cy="259.92" r="2.8" fill="#da5a82" />
<circle cx="140.88" cy="260.41" r="2.8" fill="#da5a82" />
<circle cx="142.01" cy="260.65" r="2.8" fill="#da5a82" />
<circle cx="143.1" cy="257.75" r="2.8" fill="#da5a82" />
<circle cx="144.15" cy="256.23" r="2.8" fill="#da5a82" />
<circle cx="145.16" cy="262.27" r="2.8" fill="#da5a82" />
<circle cx="146.13" cy="253.5" r="2.8" fill="#da5a82" />
<circle cx="147.08" cy="286.7" r="2.8" fill="#da5a82" />
<circle cx="147.99" cy="264.71" r="2.8" fill="#da5a82" />
<circle cx="148.88" cy="260.38" r="2.8" fill="#da5a82" />
<circle cx="149.74" cy="261.16" r="2.8" fill="#da5a82" />
<circle cx="150.57" cy="265.88" r="2.8" fill="#da5a82" />
<circle cx="151.38" cy="260.35" r="2.8" fill="#da5a82" />
<circle cx="152.17" cy="301.8" r="2.8" fill="#da5a82" />
<circle cx="152.94" cy="258.88" r="2.8" fill="#da5a82" />
<circle cx="153.69" cy="259.29" r="2.8" fill="#da5a82" />
<circle cx="154.42" cy="276.67" r="2.8" fill="#da5a82" />
<circle cx="155.13" cy="254.99" r="2.8" fill="#da5a82" />
<circle cx="155.82" cy="274.6" r="2.8" fill="#da5a82" />
<circle cx="156.5" cy="258.97" r="2.8" fill="#da5a82" />
<circle cx="157.16" cy="272.52" r="2.8" fill="#da5a82" />
<circle cx="157.81" cy="272.48" r="2.8" fill="#da5a82" />
<circle cx="158.44" cy="302.4" r="2.8" fill="#da5a82" />
<circle cx="159.06" cy="265.04" r="2.8" fill="#da5a82" />
<circle cx="159.67" cy="266.59" r="2.8" fill="#da5a82" />
<circle cx="160.26" cy="264.51" r="2.8" fill="#da5a82" />
<circle cx="160.84" cy="259.18" r="2.8" fill="#da5a82" />
<circle cx="161.41" cy="280.56" r="2.8" fill="#da5a82" />
<circle cx="161.97" cy="261.6" r="2.8" fill="#da5a82" />
<circle cx="162.52" cy="261.75" r="2.8" fill="#da5a82" />
<circle cx="163.06" cy="259.96" r="2.8" fill="#da5a82" />
<circle cx="163.59" cy="261.48" r="2.8" fill="#da5a82" />
<circle cx="164.1" cy="270.23" r="2.8" fill="#da5a82" />
<circle cx="164.61" cy="265.24" r="2.8" fill="#da5a82" />
<circle cx="165.12" cy="261.02" r="2.8" fill="#da5a82" />
<circle cx="165.61" cy="279.29" r="2.8" fill="#da5a82" />
<circle cx="166.09" cy="260.41" r="2.8" fill="#da5a82" />
<circle cx="166.57" cy="272.42" r="2.8" fill="#da5a82" />
<circle cx="167.04" cy="262.92" r="2.8" fill="#da5a82" />
<circle cx="167.5" cy="281.26" r="2.8" fill="#da5a82" />
<circle cx="167.95" cy="266.77" r="2.8" fill="#da5a82" />
<circle cx="168.4" cy="262.97" r="2.8" fill="#da5a82" />
<circle cx="168.84" cy="274.79" r="2.8" fill="#da5a82" />
<circle cx="169.27" cy="270.12" r="2.8" fill="#da5a82" />
<circle cx="169.7" cy="271.13" r="2.8" fill="#da5a82" />
<circle cx="170.12" cy="280.07" r="2.8" fill="#da5a82" />
<circle cx="170.53" cy="269.37" r="2.8" fill="#da5a82" />
<circle cx="170.94" cy="268.11" r="2.8" fill="#da5a82" />
<circle cx="171.34" cy="282.5" r="2.8" fill="#da5a82" />
<circle cx="171.74" cy="275.84" r="2.8" fill="#da5a82" />
<circle cx="172.13" cy="284.65" r="2.8" fill="#da5a82" />
<circle cx="172.52" cy="282.97" r="2.8" fill="#da5a82" />
<circle cx="173.27" cy="302.39" r="2.8" fill="#da5a82" />
<circle cx="173.65" cy="271.87" r="2.8" fill="#da5a82" />
<circle cx="174.01" cy="285.85" r="2.8" fill="#da5a82" />
<circle cx="174.73" cy="267.49" r="2.8" fill="#da5a82" />
<circle cx="175.09" cy="265.64" r="2.8" fill="#da5a82" />
<circle cx="175.78" cy="285.94" r="2.8" fill="#da5a82" />
<circle cx="176.12" cy="281.93" r="2.8" fill="#da5a82" />
<circle cx="176.46" cy="281.71" r="2.8" fill="#da5a82" />
<circle cx="176.79" cy="261.87" r="2.8" fill="#da5a82" />
<circle cx="178.08" cy="263.63" r="2.8" fill="#da5a82" />
<circle cx="178.71" cy="281.02" r="2.8" fill="#da5a82" />
<circle cx="179.32" cy="310.3" r="2.8" fill="#da5a82" />
<circle cx="179.62" cy="276.15" r="2.8" fill="#da5a82" />
<circle cx="179.92" cy="285.26" r="2.8" fill="#da5a82" />
<circle cx="180.51" cy="284.03" r="2.8" fill="#da5a82" />
<circle cx="180.8" cy="284.67" r="2.8" fill="#da5a82" />
<circle cx="181.93" cy="270.61" r="2.8" fill="#da5a82" />
<circle cx="182.2" cy="284.57" r="2.8" fill="#da5a82" />
<circle cx="182.48" cy="269.99" r="2.8" fill="#da5a82" />
<circle cx="182.75" cy="279.64" r="2.8" fill="#da5a82" />
<circle cx="183.02" cy="280.83" r="2.8" fill="#da5a82" />
<circle cx="183.8" cy="285.53" r="2.8" fill="#da5a82" />
<circle cx="186.05" cy="280.83" r="2.8" fill="#da5a82" />
<circle cx="186.53" cy="277.49" r="2.8" fill="#da5a82" />
<circle cx="186.76" cy="275" r="2.8" fill="#da5a82" />
<circle cx="186.99" cy="279.27" r="2.8" fill="#da5a82" />
<circle cx="187.23" cy="315.5" r="2.8" fill="#da5a82" />
<circle cx="187.45" cy="273.19" r="2.8" fill="#da5a82" />
<circle cx="187.68" cy="273.93" r="2.8" fill="#da5a82" />
<circle cx="187.91" cy="272.9" r="2.8" fill="#da5a82" />
<circle cx="188.58" cy="287" r="2.8" fill="#da5a82" />
<circle cx="188.79" cy="283.02" r="2.8" fill="#da5a82" />
<circle cx="189.86" cy="303.6" r="2.8" fill="#da5a82" />
<circle cx="190.69" cy="304.39" r="2.8" fill="#da5a82" />
<circle cx="190.9" cy="286.48" r="2.8" fill="#da5a82" />
<circle cx="191.3" cy="282.13" r="2.8" fill="#da5a82" />
<circle cx="191.5" cy="294.7" r="2.8" fill="#da5a82" />
<circle cx="191.7" cy="282.77" r="2.8" fill="#da5a82" />
<circle cx="191.89" cy="277.78" r="2.8" fill="#da5a82" />
<circle cx="192.5" cy="279" r="2.8" fill="#da5a82" />
<circle cx="195.8" cy="280.5" r="2.8" fill="#da5a82" />
<circle cx="197.4" cy="283.8" r="2.8" fill="#da5a82" />
<circle cx="202.8" cy="286.4" r="2.8" fill="#da5a82" />
<circle cx="206.1" cy="292.6" r="2.8" fill="#da5a82" />
<circle cx="211.6" cy="301.3" r="2.8" fill="#da5a82" />
<circle cx="214.9" cy="295.8" r="2.8" fill="#da5a82" />
<circle cx="217.1" cy="317.1" r="2.8" fill="#da5a82" />
<circle cx="222.1" cy="299.1" r="2.8" fill="#da5a82" />
<circle cx="227.4" cy="304.6" r="2.8" fill="#da5a82" />
<circle cx="232.4" cy="308.3" r="2.8" fill="#da5a82" />
<circle cx="243.4" cy="311.4" r="2.8" fill="#da5a82" />
<circle cx="247.7" cy="312.9" r="2.8" fill="#da5a82" />
<circle cx="255" cy="314.9" r="2.8" fill="#da5a82" />
<circle cx="271.4" cy="316" r="2.8" fill="#da5a82" />
<g transform="translate(10.7,328.5) rotate(-90)" fill="#111"><polyline points="5.0,-10.6 1.2,-3.7 5.0,3.2" fill="none" stroke="#111" stroke-width="0.9"/><text x="6.4" y="0" font-family="Liberation Serif" font-style="italic" font-size="14">k</text><text x="14.6" y="2.4" font-family="Liberation Serif" font-size="11" textLength="10.2" lengthAdjust="spacingAndGlyphs">nn</text><text x="25.6" y="0" font-family="Liberation Serif" font-size="15.5">(</text><text x="31.6" y="0" font-family="Liberation Serif" font-style="italic" font-size="14">k</text><text x="39.6" y="0" font-family="Liberation Serif" font-size="15.5">)</text><polyline points="45.0,-10.6 48.8,-3.7 45.0,3.2" fill="none" stroke="#111" stroke-width="0.9"/></g>
<text x="179.8" y="405.5" font-family="Liberation Serif" font-size="14.5" text-anchor="middle" font-style="italic">k</text>
<text x="183" y="431.8" font-family="Liberation Sans" font-size="15.5" text-anchor="middle" textLength="17.3" lengthAdjust="spacingAndGlyphs">(c)</text>
<text x="74" y="361.2" font-family="Liberation Serif" font-size="16" text-anchor="start" textLength="52.9" lengthAdjust="spacingAndGlyphs">Internet</text>
<text x="73.4" y="329.6" font-family="Liberation Serif" font-size="16" text-anchor="start" textLength="30.3" lengthAdjust="spacingAndGlyphs">data</text>
<text x="252.8" y="272.4" font-family="Liberation Serif" font-size="16" text-anchor="start" textLength="31.1" lengthAdjust="spacingAndGlyphs">ME1</text>
<line x1="243.4" y1="267.6" x2="205.2" y2="267.6" stroke="#111" stroke-width="0.9" />
<polygon points="200.7,267.6 205.7,265.5 204.5,267.6 205.7,269.7" fill="#111"/>
<line x1="113.9" y1="325.4" x2="146.01" y2="318.1" stroke="#111" stroke-width="0.9" />
<polygon points="150.4,317.1 145.99,320.26 146.69,317.94 145.06,316.16" fill="#111"/>
<rect x="48.2" y="237.2" width="265.2" height="131.5" fill="none" stroke="#404040" stroke-width="1.3"/>
<line x1="48.2" y1="368.7" x2="48.2" y2="365.1" stroke="#404040" stroke-width="0.9" />
<line x1="48.2" y1="237.2" x2="48.2" y2="240.8" stroke="#404040" stroke-width="0.9" />
<line x1="68.16" y1="368.7" x2="68.16" y2="367.1" stroke="#404040" stroke-width="0.9" />
<line x1="68.16" y1="237.2" x2="68.16" y2="238.8" stroke="#404040" stroke-width="0.9" />
<line x1="79.83" y1="368.7" x2="79.83" y2="367.1" stroke="#404040" stroke-width="0.9" />
<line x1="79.83" y1="237.2" x2="79.83" y2="238.8" stroke="#404040" stroke-width="0.9" />
<line x1="88.12" y1="368.7" x2="88.12" y2="367.1" stroke="#404040" stroke-width="0.9" />
<line x1="88.12" y1="237.2" x2="88.12" y2="238.8" stroke="#404040" stroke-width="0.9" />
<line x1="94.54" y1="368.7" x2="94.54" y2="367.1" stroke="#404040" stroke-width="0.9" />
<line x1="94.54" y1="237.2" x2="94.54" y2="238.8" stroke="#404040" stroke-width="0.9" />
<line x1="99.79" y1="368.7" x2="99.79" y2="367.1" stroke="#404040" stroke-width="0.9" />
<line x1="99.79" y1="237.2" x2="99.79" y2="238.8" stroke="#404040" stroke-width="0.9" />
<line x1="104.23" y1="368.7" x2="104.23" y2="367.1" stroke="#404040" stroke-width="0.9" />
<line x1="104.23" y1="237.2" x2="104.23" y2="238.8" stroke="#404040" stroke-width="0.9" />
<line x1="108.07" y1="368.7" x2="108.07" y2="367.1" stroke="#404040" stroke-width="0.9" />
<line x1="108.07" y1="237.2" x2="108.07" y2="238.8" stroke="#404040" stroke-width="0.9" />
<line x1="111.47" y1="368.7" x2="111.47" y2="367.1" stroke="#404040" stroke-width="0.9" />
<line x1="111.47" y1="237.2" x2="111.47" y2="238.8" stroke="#404040" stroke-width="0.9" />
<line x1="114.5" y1="368.7" x2="114.5" y2="365.1" stroke="#404040" stroke-width="0.9" />
<line x1="114.5" y1="237.2" x2="114.5" y2="240.8" stroke="#404040" stroke-width="0.9" />
<line x1="134.46" y1="368.7" x2="134.46" y2="367.1" stroke="#404040" stroke-width="0.9" />
<line x1="134.46" y1="237.2" x2="134.46" y2="238.8" stroke="#404040" stroke-width="0.9" />
<line x1="146.13" y1="368.7" x2="146.13" y2="367.1" stroke="#404040" stroke-width="0.9" />
<line x1="146.13" y1="237.2" x2="146.13" y2="238.8" stroke="#404040" stroke-width="0.9" />
<line x1="154.42" y1="368.7" x2="154.42" y2="367.1" stroke="#404040" stroke-width="0.9" />
<line x1="154.42" y1="237.2" x2="154.42" y2="238.8" stroke="#404040" stroke-width="0.9" />
<line x1="160.84" y1="368.7" x2="160.84" y2="367.1" stroke="#404040" stroke-width="0.9" />
<line x1="160.84" y1="237.2" x2="160.84" y2="238.8" stroke="#404040" stroke-width="0.9" />
<line x1="166.09" y1="368.7" x2="166.09" y2="367.1" stroke="#404040" stroke-width="0.9" />
<line x1="166.09" y1="237.2" x2="166.09" y2="238.8" stroke="#404040" stroke-width="0.9" />
<line x1="170.53" y1="368.7" x2="170.53" y2="367.1" stroke="#404040" stroke-width="0.9" />
<line x1="170.53" y1="237.2" x2="170.53" y2="238.8" stroke="#404040" stroke-width="0.9" />
<line x1="174.37" y1="368.7" x2="174.37" y2="367.1" stroke="#404040" stroke-width="0.9" />
<line x1="174.37" y1="237.2" x2="174.37" y2="238.8" stroke="#404040" stroke-width="0.9" />
<line x1="177.77" y1="368.7" x2="177.77" y2="367.1" stroke="#404040" stroke-width="0.9" />
<line x1="177.77" y1="237.2" x2="177.77" y2="238.8" stroke="#404040" stroke-width="0.9" />
<line x1="180.8" y1="368.7" x2="180.8" y2="365.1" stroke="#404040" stroke-width="0.9" />
<line x1="180.8" y1="237.2" x2="180.8" y2="240.8" stroke="#404040" stroke-width="0.9" />
<line x1="200.76" y1="368.7" x2="200.76" y2="367.1" stroke="#404040" stroke-width="0.9" />
<line x1="200.76" y1="237.2" x2="200.76" y2="238.8" stroke="#404040" stroke-width="0.9" />
<line x1="212.43" y1="368.7" x2="212.43" y2="367.1" stroke="#404040" stroke-width="0.9" />
<line x1="212.43" y1="237.2" x2="212.43" y2="238.8" stroke="#404040" stroke-width="0.9" />
<line x1="220.72" y1="368.7" x2="220.72" y2="367.1" stroke="#404040" stroke-width="0.9" />
<line x1="220.72" y1="237.2" x2="220.72" y2="238.8" stroke="#404040" stroke-width="0.9" />
<line x1="227.14" y1="368.7" x2="227.14" y2="367.1" stroke="#404040" stroke-width="0.9" />
<line x1="227.14" y1="237.2" x2="227.14" y2="238.8" stroke="#404040" stroke-width="0.9" />
<line x1="232.39" y1="368.7" x2="232.39" y2="367.1" stroke="#404040" stroke-width="0.9" />
<line x1="232.39" y1="237.2" x2="232.39" y2="238.8" stroke="#404040" stroke-width="0.9" />
<line x1="236.83" y1="368.7" x2="236.83" y2="367.1" stroke="#404040" stroke-width="0.9" />
<line x1="236.83" y1="237.2" x2="236.83" y2="238.8" stroke="#404040" stroke-width="0.9" />
<line x1="240.67" y1="368.7" x2="240.67" y2="367.1" stroke="#404040" stroke-width="0.9" />
<line x1="240.67" y1="237.2" x2="240.67" y2="238.8" stroke="#404040" stroke-width="0.9" />
<line x1="244.07" y1="368.7" x2="244.07" y2="367.1" stroke="#404040" stroke-width="0.9" />
<line x1="244.07" y1="237.2" x2="244.07" y2="238.8" stroke="#404040" stroke-width="0.9" />
<line x1="247.1" y1="368.7" x2="247.1" y2="365.1" stroke="#404040" stroke-width="0.9" />
<line x1="247.1" y1="237.2" x2="247.1" y2="240.8" stroke="#404040" stroke-width="0.9" />
<line x1="267.06" y1="368.7" x2="267.06" y2="367.1" stroke="#404040" stroke-width="0.9" />
<line x1="267.06" y1="237.2" x2="267.06" y2="238.8" stroke="#404040" stroke-width="0.9" />
<line x1="278.73" y1="368.7" x2="278.73" y2="367.1" stroke="#404040" stroke-width="0.9" />
<line x1="278.73" y1="237.2" x2="278.73" y2="238.8" stroke="#404040" stroke-width="0.9" />
<line x1="287.02" y1="368.7" x2="287.02" y2="367.1" stroke="#404040" stroke-width="0.9" />
<line x1="287.02" y1="237.2" x2="287.02" y2="238.8" stroke="#404040" stroke-width="0.9" />
<line x1="293.44" y1="368.7" x2="293.44" y2="367.1" stroke="#404040" stroke-width="0.9" />
<line x1="293.44" y1="237.2" x2="293.44" y2="238.8" stroke="#404040" stroke-width="0.9" />
<line x1="298.69" y1="368.7" x2="298.69" y2="367.1" stroke="#404040" stroke-width="0.9" />
<line x1="298.69" y1="237.2" x2="298.69" y2="238.8" stroke="#404040" stroke-width="0.9" />
<line x1="303.13" y1="368.7" x2="303.13" y2="367.1" stroke="#404040" stroke-width="0.9" />
<line x1="303.13" y1="237.2" x2="303.13" y2="238.8" stroke="#404040" stroke-width="0.9" />
<line x1="306.97" y1="368.7" x2="306.97" y2="367.1" stroke="#404040" stroke-width="0.9" />
<line x1="306.97" y1="237.2" x2="306.97" y2="238.8" stroke="#404040" stroke-width="0.9" />
<line x1="310.37" y1="368.7" x2="310.37" y2="367.1" stroke="#404040" stroke-width="0.9" />
<line x1="310.37" y1="237.2" x2="310.37" y2="238.8" stroke="#404040" stroke-width="0.9" />
<line x1="48.2" y1="368.7" x2="51.8" y2="368.7" stroke="#404040" stroke-width="0.9" />
<line x1="313.4" y1="368.7" x2="309.8" y2="368.7" stroke="#404040" stroke-width="0.9" />
<line x1="48.2" y1="355.5" x2="49.8" y2="355.5" stroke="#404040" stroke-width="0.9" />
<line x1="313.4" y1="355.5" x2="311.8" y2="355.5" stroke="#404040" stroke-width="0.9" />
<line x1="48.2" y1="347.79" x2="49.8" y2="347.79" stroke="#404040" stroke-width="0.9" />
<line x1="313.4" y1="347.79" x2="311.8" y2="347.79" stroke="#404040" stroke-width="0.9" />
<line x1="48.2" y1="342.31" x2="49.8" y2="342.31" stroke="#404040" stroke-width="0.9" />
<line x1="313.4" y1="342.31" x2="311.8" y2="342.31" stroke="#404040" stroke-width="0.9" />
<line x1="48.2" y1="338.06" x2="49.8" y2="338.06" stroke="#404040" stroke-width="0.9" />
<line x1="313.4" y1="338.06" x2="311.8" y2="338.06" stroke="#404040" stroke-width="0.9" />
<line x1="48.2" y1="334.59" x2="49.8" y2="334.59" stroke="#404040" stroke-width="0.9" />
<line x1="313.4" y1="334.59" x2="311.8" y2="334.59" stroke="#404040" stroke-width="0.9" />
<line x1="48.2" y1="331.66" x2="49.8" y2="331.66" stroke="#404040" stroke-width="0.9" />
<line x1="313.4" y1="331.66" x2="311.8" y2="331.66" stroke="#404040" stroke-width="0.9" />
<line x1="48.2" y1="329.11" x2="49.8" y2="329.11" stroke="#404040" stroke-width="0.9" />
<line x1="313.4" y1="329.11" x2="311.8" y2="329.11" stroke="#404040" stroke-width="0.9" />
<line x1="48.2" y1="326.87" x2="49.8" y2="326.87" stroke="#404040" stroke-width="0.9" />
<line x1="313.4" y1="326.87" x2="311.8" y2="326.87" stroke="#404040" stroke-width="0.9" />
<line x1="48.2" y1="324.87" x2="51.8" y2="324.87" stroke="#404040" stroke-width="0.9" />
<line x1="313.4" y1="324.87" x2="309.8" y2="324.87" stroke="#404040" stroke-width="0.9" />
<line x1="48.2" y1="311.67" x2="49.8" y2="311.67" stroke="#404040" stroke-width="0.9" />
<line x1="313.4" y1="311.67" x2="311.8" y2="311.67" stroke="#404040" stroke-width="0.9" />
<line x1="48.2" y1="303.95" x2="49.8" y2="303.95" stroke="#404040" stroke-width="0.9" />
<line x1="313.4" y1="303.95" x2="311.8" y2="303.95" stroke="#404040" stroke-width="0.9" />
<line x1="48.2" y1="298.48" x2="49.8" y2="298.48" stroke="#404040" stroke-width="0.9" />
<line x1="313.4" y1="298.48" x2="311.8" y2="298.48" stroke="#404040" stroke-width="0.9" />
<line x1="48.2" y1="294.23" x2="49.8" y2="294.23" stroke="#404040" stroke-width="0.9" />
<line x1="313.4" y1="294.23" x2="311.8" y2="294.23" stroke="#404040" stroke-width="0.9" />
<line x1="48.2" y1="290.76" x2="49.8" y2="290.76" stroke="#404040" stroke-width="0.9" />
<line x1="313.4" y1="290.76" x2="311.8" y2="290.76" stroke="#404040" stroke-width="0.9" />
<line x1="48.2" y1="287.82" x2="49.8" y2="287.82" stroke="#404040" stroke-width="0.9" />
<line x1="313.4" y1="287.82" x2="311.8" y2="287.82" stroke="#404040" stroke-width="0.9" />
<line x1="48.2" y1="285.28" x2="49.8" y2="285.28" stroke="#404040" stroke-width="0.9" />
<line x1="313.4" y1="285.28" x2="311.8" y2="285.28" stroke="#404040" stroke-width="0.9" />
<line x1="48.2" y1="283.04" x2="49.8" y2="283.04" stroke="#404040" stroke-width="0.9" />
<line x1="313.4" y1="283.04" x2="311.8" y2="283.04" stroke="#404040" stroke-width="0.9" />
<line x1="48.2" y1="281.03" x2="51.8" y2="281.03" stroke="#404040" stroke-width="0.9" />
<line x1="313.4" y1="281.03" x2="309.8" y2="281.03" stroke="#404040" stroke-width="0.9" />
<line x1="48.2" y1="267.84" x2="49.8" y2="267.84" stroke="#404040" stroke-width="0.9" />
<line x1="313.4" y1="267.84" x2="311.8" y2="267.84" stroke="#404040" stroke-width="0.9" />
<line x1="48.2" y1="260.12" x2="49.8" y2="260.12" stroke="#404040" stroke-width="0.9" />
<line x1="313.4" y1="260.12" x2="311.8" y2="260.12" stroke="#404040" stroke-width="0.9" />
<line x1="48.2" y1="254.64" x2="49.8" y2="254.64" stroke="#404040" stroke-width="0.9" />
<line x1="313.4" y1="254.64" x2="311.8" y2="254.64" stroke="#404040" stroke-width="0.9" />
<line x1="48.2" y1="250.4" x2="49.8" y2="250.4" stroke="#404040" stroke-width="0.9" />
<line x1="313.4" y1="250.4" x2="311.8" y2="250.4" stroke="#404040" stroke-width="0.9" />
<line x1="48.2" y1="246.92" x2="49.8" y2="246.92" stroke="#404040" stroke-width="0.9" />
<line x1="313.4" y1="246.92" x2="311.8" y2="246.92" stroke="#404040" stroke-width="0.9" />
<line x1="48.2" y1="243.99" x2="49.8" y2="243.99" stroke="#404040" stroke-width="0.9" />
<line x1="313.4" y1="243.99" x2="311.8" y2="243.99" stroke="#404040" stroke-width="0.9" />
<line x1="48.2" y1="241.45" x2="49.8" y2="241.45" stroke="#404040" stroke-width="0.9" />
<line x1="313.4" y1="241.45" x2="311.8" y2="241.45" stroke="#404040" stroke-width="0.9" />
<line x1="48.2" y1="239.21" x2="49.8" y2="239.21" stroke="#404040" stroke-width="0.9" />
<line x1="313.4" y1="239.21" x2="311.8" y2="239.21" stroke="#404040" stroke-width="0.9" />
<line x1="48.2" y1="237.2" x2="51.8" y2="237.2" stroke="#404040" stroke-width="0.9" />
<line x1="313.4" y1="237.2" x2="309.8" y2="237.2" stroke="#404040" stroke-width="0.9" />
<text x="48.2" y="384.5" font-family="Liberation Serif" font-size="15.2" text-anchor="middle" textLength="8.0" lengthAdjust="spacingAndGlyphs">1</text>
<text x="114.5" y="384.5" font-family="Liberation Serif" font-size="15.2" text-anchor="middle" textLength="16.0" lengthAdjust="spacingAndGlyphs">10</text>
<text x="180.8" y="384.5" font-family="Liberation Serif" font-size="15.2" text-anchor="middle" textLength="24.0" lengthAdjust="spacingAndGlyphs">100</text>
<text x="247.1" y="384.5" font-family="Liberation Serif" font-size="15.2" text-anchor="middle" textLength="32.0" lengthAdjust="spacingAndGlyphs">1000</text>
<text x="313.4" y="384.5" font-family="Liberation Serif" font-size="15.2" text-anchor="middle" textLength="40.0" lengthAdjust="spacingAndGlyphs">10000</text>
<text x="44" y="373.9" font-family="Liberation Serif" font-size="15.2" text-anchor="end" textLength="8.0" lengthAdjust="spacingAndGlyphs">1</text>
<text x="44" y="330.07" font-family="Liberation Serif" font-size="15.2" text-anchor="end" textLength="16.0" lengthAdjust="spacingAndGlyphs">10</text>
<text x="44" y="286.23" font-family="Liberation Serif" font-size="15.2" text-anchor="end" textLength="24.0" lengthAdjust="spacingAndGlyphs">100</text>
<text x="44" y="242.4" font-family="Liberation Serif" font-size="15.2" text-anchor="end" textLength="32.0" lengthAdjust="spacingAndGlyphs">1000</text>
<line x1="538.1" y1="365.5" x2="538.1" y2="233.3" stroke="#000" stroke-width="2.1" stroke-dasharray="5.8 3.5"/>
<line x1="555.9" y1="365.5" x2="555.9" y2="233.3" stroke="#e0138b" stroke-width="2.1" stroke-dasharray="5.8 3.5"/>
<line x1="401.1" y1="264.5" x2="666.1" y2="264.5" stroke="#000" stroke-width="2.1" stroke-dasharray="5.8 3.5"/>
<polyline points="401.4,257.1 421.32,260 432.97,260.9 441.24,257.4 447.65,259.9 452.89,257.9 457.32,258.8 461.16,258.2 464.55,258.6 467.57,259.78 470.31,259.6 472.81,259.79 475.12,260.17 477.25,260.4 479.23,260.26 481.08,259.88 482.82,259.62 484.47,259.7 486.02,260.06 487.5,260.37 488.9,260.33 490.23,260 491.51,259.66 492.74,259.64 493.91,259.95 495.04,260.31 496.12,260.38 497.17,260.11 498.17,259.73 499.15,259.6 500.09,259.84 501,260.22 501.89,260.4 502.75,260.21 503.58,259.83 504.39,259.6 505.18,259.74 505.94,260.12 506.69,260.39 507.42,260.3 508.13,259.94 508.82,259.63 509.49,259.67 510.16,260.01 510.8,260.34 511.43,260.36 512.05,260.05 512.66,259.69 513.25,259.62 513.83,259.9 514.4,260.27 514.96,260.39 515.5,260.16 516.04,259.78 516.57,259.6 517.09,259.79 517.6,260.17 518.09,260.4 518.59,260.25 519.07,259.88 519.54,259.61 520.01,259.7 520.47,260.07 520.92,260.37 521.37,260.33 521.81,259.99 522.24,259.66 522.67,259.64 523.09,259.95 523.5,260.31 523.91,260.38 524.31,260.1 524.71,259.73 525.1,259.61 525.48,259.84 525.86,260.23 526.24,260.4 526.61,260.21 526.98,259.82 527.34,259.6 527.69,259.75 528.05,260.13 528.39,260.39 528.74,260.29 529.08,259.93 529.42,259.63 529.75,259.67 530.08,260.01 530.4,260.34 530.72,260.36 531.04,260.04 531.35,259.69 531.66,259.62 531.97,259.9 532.28,260.27 532.58,260.39 532.87,260.15 533.17,259.77 533.46,259.6 533.75,259.8 534.6,260.3 537,263 539.9,267.3 542.1,269.28 545.5,272.18 548.1,274.42 551.9,279.22 554.4,281.08 557.4,283.42 559.6,285.22 563.2,287.54 565.6,289.03 568.5,290.86 570.7,292.47 574.1,294.36 576.7,295.72 580.5,297.83 583,299.39 585.6,301.1 595.7,303.6 600.9,304.7 608.5,305.7 625.1,306.4" fill="none" stroke="#a8cc00" stroke-width="1.0" stroke-linejoin="round" />
<circle cx="401.4" cy="257.1" r="2.8" fill="#a8cc00" />
<circle cx="421.32" cy="260" r="2.8" fill="#a8cc00" />
<circle cx="432.97" cy="260.9" r="2.8" fill="#a8cc00" />
<circle cx="441.24" cy="257.4" r="2.8" fill="#a8cc00" />
<circle cx="447.65" cy="259.9" r="2.8" fill="#a8cc00" />
<circle cx="452.89" cy="257.9" r="2.8" fill="#a8cc00" />
<circle cx="457.32" cy="258.8" r="2.8" fill="#a8cc00" />
<circle cx="461.16" cy="258.2" r="2.8" fill="#a8cc00" />
<circle cx="464.55" cy="258.6" r="2.8" fill="#a8cc00" />
<circle cx="467.57" cy="259.78" r="2.8" fill="#a8cc00" />
<circle cx="470.31" cy="259.6" r="2.8" fill="#a8cc00" />
<circle cx="472.81" cy="259.79" r="2.8" fill="#a8cc00" />
<circle cx="475.12" cy="260.17" r="2.8" fill="#a8cc00" />
<circle cx="477.25" cy="260.4" r="2.8" fill="#a8cc00" />
<circle cx="479.23" cy="260.26" r="2.8" fill="#a8cc00" />
<circle cx="481.08" cy="259.88" r="2.8" fill="#a8cc00" />
<circle cx="482.82" cy="259.62" r="2.8" fill="#a8cc00" />
<circle cx="484.47" cy="259.7" r="2.8" fill="#a8cc00" />
<circle cx="486.02" cy="260.06" r="2.8" fill="#a8cc00" />
<circle cx="487.5" cy="260.37" r="2.8" fill="#a8cc00" />
<circle cx="488.9" cy="260.33" r="2.8" fill="#a8cc00" />
<circle cx="490.23" cy="260" r="2.8" fill="#a8cc00" />
<circle cx="491.51" cy="259.66" r="2.8" fill="#a8cc00" />
<circle cx="492.74" cy="259.64" r="2.8" fill="#a8cc00" />
<circle cx="493.91" cy="259.95" r="2.8" fill="#a8cc00" />
<circle cx="495.04" cy="260.31" r="2.8" fill="#a8cc00" />
<circle cx="496.12" cy="260.38" r="2.8" fill="#a8cc00" />
<circle cx="497.17" cy="260.11" r="2.8" fill="#a8cc00" />
<circle cx="498.17" cy="259.73" r="2.8" fill="#a8cc00" />
<circle cx="499.15" cy="259.6" r="2.8" fill="#a8cc00" />
<circle cx="500.09" cy="259.84" r="2.8" fill="#a8cc00" />
<circle cx="501" cy="260.22" r="2.8" fill="#a8cc00" />
<circle cx="501.89" cy="260.4" r="2.8" fill="#a8cc00" />
<circle cx="502.75" cy="260.21" r="2.8" fill="#a8cc00" />
<circle cx="503.58" cy="259.83" r="2.8" fill="#a8cc00" />
<circle cx="504.39" cy="259.6" r="2.8" fill="#a8cc00" />
<circle cx="505.18" cy="259.74" r="2.8" fill="#a8cc00" />
<circle cx="505.94" cy="260.12" r="2.8" fill="#a8cc00" />
<circle cx="506.69" cy="260.39" r="2.8" fill="#a8cc00" />
<circle cx="507.42" cy="260.3" r="2.8" fill="#a8cc00" />
<circle cx="508.13" cy="259.94" r="2.8" fill="#a8cc00" />
<circle cx="508.82" cy="259.63" r="2.8" fill="#a8cc00" />
<circle cx="509.49" cy="259.67" r="2.8" fill="#a8cc00" />
<circle cx="510.16" cy="260.01" r="2.8" fill="#a8cc00" />
<circle cx="510.8" cy="260.34" r="2.8" fill="#a8cc00" />
<circle cx="511.43" cy="260.36" r="2.8" fill="#a8cc00" />
<circle cx="512.05" cy="260.05" r="2.8" fill="#a8cc00" />
<circle cx="512.66" cy="259.69" r="2.8" fill="#a8cc00" />
<circle cx="513.25" cy="259.62" r="2.8" fill="#a8cc00" />
<circle cx="513.83" cy="259.9" r="2.8" fill="#a8cc00" />
<circle cx="514.4" cy="260.27" r="2.8" fill="#a8cc00" />
<circle cx="514.96" cy="260.39" r="2.8" fill="#a8cc00" />
<circle cx="515.5" cy="260.16" r="2.8" fill="#a8cc00" />
<circle cx="516.04" cy="259.78" r="2.8" fill="#a8cc00" />
<circle cx="516.57" cy="259.6" r="2.8" fill="#a8cc00" />
<circle cx="517.09" cy="259.79" r="2.8" fill="#a8cc00" />
<circle cx="517.6" cy="260.17" r="2.8" fill="#a8cc00" />
<circle cx="518.09" cy="260.4" r="2.8" fill="#a8cc00" />
<circle cx="518.59" cy="260.25" r="2.8" fill="#a8cc00" />
<circle cx="519.07" cy="259.88" r="2.8" fill="#a8cc00" />
<circle cx="519.54" cy="259.61" r="2.8" fill="#a8cc00" />
<circle cx="520.01" cy="259.7" r="2.8" fill="#a8cc00" />
<circle cx="520.47" cy="260.07" r="2.8" fill="#a8cc00" />
<circle cx="520.92" cy="260.37" r="2.8" fill="#a8cc00" />
<circle cx="521.37" cy="260.33" r="2.8" fill="#a8cc00" />
<circle cx="521.81" cy="259.99" r="2.8" fill="#a8cc00" />
<circle cx="522.24" cy="259.66" r="2.8" fill="#a8cc00" />
<circle cx="522.67" cy="259.64" r="2.8" fill="#a8cc00" />
<circle cx="523.09" cy="259.95" r="2.8" fill="#a8cc00" />
<circle cx="523.5" cy="260.31" r="2.8" fill="#a8cc00" />
<circle cx="523.91" cy="260.38" r="2.8" fill="#a8cc00" />
<circle cx="524.31" cy="260.1" r="2.8" fill="#a8cc00" />
<circle cx="524.71" cy="259.73" r="2.8" fill="#a8cc00" />
<circle cx="525.1" cy="259.61" r="2.8" fill="#a8cc00" />
<circle cx="525.48" cy="259.84" r="2.8" fill="#a8cc00" />
<circle cx="525.86" cy="260.23" r="2.8" fill="#a8cc00" />
<circle cx="526.24" cy="260.4" r="2.8" fill="#a8cc00" />
<circle cx="526.61" cy="260.21" r="2.8" fill="#a8cc00" />
<circle cx="526.98" cy="259.82" r="2.8" fill="#a8cc00" />
<circle cx="527.34" cy="259.6" r="2.8" fill="#a8cc00" />
<circle cx="527.69" cy="259.75" r="2.8" fill="#a8cc00" />
<circle cx="528.05" cy="260.13" r="2.8" fill="#a8cc00" />
<circle cx="528.39" cy="260.39" r="2.8" fill="#a8cc00" />
<circle cx="528.74" cy="260.29" r="2.8" fill="#a8cc00" />
<circle cx="529.08" cy="259.93" r="2.8" fill="#a8cc00" />
<circle cx="529.42" cy="259.63" r="2.8" fill="#a8cc00" />
<circle cx="529.75" cy="259.67" r="2.8" fill="#a8cc00" />
<circle cx="530.08" cy="260.01" r="2.8" fill="#a8cc00" />
<circle cx="530.4" cy="260.34" r="2.8" fill="#a8cc00" />
<circle cx="530.72" cy="260.36" r="2.8" fill="#a8cc00" />
<circle cx="531.04" cy="260.04" r="2.8" fill="#a8cc00" />
<circle cx="531.35" cy="259.69" r="2.8" fill="#a8cc00" />
<circle cx="531.66" cy="259.62" r="2.8" fill="#a8cc00" />
<circle cx="531.97" cy="259.9" r="2.8" fill="#a8cc00" />
<circle cx="532.28" cy="260.27" r="2.8" fill="#a8cc00" />
<circle cx="532.58" cy="260.39" r="2.8" fill="#a8cc00" />
<circle cx="532.87" cy="260.15" r="2.8" fill="#a8cc00" />
<circle cx="533.17" cy="259.77" r="2.8" fill="#a8cc00" />
<circle cx="533.46" cy="259.6" r="2.8" fill="#a8cc00" />
<circle cx="533.75" cy="259.8" r="2.8" fill="#a8cc00" />
<circle cx="534.6" cy="260.3" r="2.8" fill="#a8cc00" />
<circle cx="537" cy="263" r="2.8" fill="#a8cc00" />
<circle cx="539.9" cy="267.3" r="2.8" fill="#a8cc00" />
<circle cx="542.1" cy="269.28" r="2.8" fill="#a8cc00" />
<circle cx="545.5" cy="272.18" r="2.8" fill="#a8cc00" />
<circle cx="548.1" cy="274.42" r="2.8" fill="#a8cc00" />
<circle cx="551.9" cy="279.22" r="2.8" fill="#a8cc00" />
<circle cx="554.4" cy="281.08" r="2.8" fill="#a8cc00" />
<circle cx="557.4" cy="283.42" r="2.8" fill="#a8cc00" />
<circle cx="559.6" cy="285.22" r="2.8" fill="#a8cc00" />
<circle cx="563.2" cy="287.54" r="2.8" fill="#a8cc00" />
<circle cx="565.6" cy="289.03" r="2.8" fill="#a8cc00" />
<circle cx="568.5" cy="290.86" r="2.8" fill="#a8cc00" />
<circle cx="570.7" cy="292.47" r="2.8" fill="#a8cc00" />
<circle cx="574.1" cy="294.36" r="2.8" fill="#a8cc00" />
<circle cx="576.7" cy="295.72" r="2.8" fill="#a8cc00" />
<circle cx="580.5" cy="297.83" r="2.8" fill="#a8cc00" />
<circle cx="583" cy="299.39" r="2.8" fill="#a8cc00" />
<circle cx="585.6" cy="301.1" r="2.8" fill="#a8cc00" />
<circle cx="595.7" cy="303.6" r="2.8" fill="#a8cc00" />
<circle cx="600.9" cy="304.7" r="2.8" fill="#a8cc00" />
<circle cx="608.5" cy="305.7" r="2.8" fill="#a8cc00" />
<circle cx="625.1" cy="306.4" r="2.8" fill="#a8cc00" />
<polyline points="401.4,261.8 421.32,265.3 432.97,264.6 441.24,262.7 447.65,264 452.89,264.9 457.32,263.6 461.16,264.2 464.55,263.3 467.57,263.93 470.31,264.1 472.81,263.83 475.12,263.52 477.25,263.62 479.23,263.98 481.08,264.08 482.82,263.77 484.47,263.5 486.02,263.67 487.5,264.03 488.9,264.05 490.23,263.7 491.51,263.5 492.74,263.74 493.91,264.07 495.04,264.01 496.12,263.65 497.17,263.51 498.17,263.8 499.15,264.09 500.09,263.95 501,263.59 501.89,263.54 502.75,263.86 503.58,264.1 504.39,263.9 505.18,263.55 505.94,263.57 506.69,263.93 507.42,264.1 508.13,263.83 508.82,263.52 509.49,263.62 510.16,263.98 510.8,264.08 511.43,263.77 512.05,263.5 512.66,263.67 513.25,264.03 513.83,264.05 514.4,263.7 514.96,263.5 515.5,263.74 516.04,264.07 516.57,264.01 517.09,263.64 517.6,263.51 518.09,263.8 518.59,264.09 519.07,263.95 519.54,263.59 520.01,263.54 520.47,263.87 520.92,264.1 521.37,263.9 521.81,263.55 522.24,263.57 522.67,263.93 523.09,264.1 523.5,263.83 523.91,263.52 524.31,263.62 524.71,263.98 525.1,264.08 525.48,263.77 525.86,263.5 526.24,263.67 526.61,264.03 526.98,264.05 527.34,263.7 527.69,263.5 528.05,263.74 528.39,264.07 528.74,264.01 529.08,263.64 529.42,263.51 529.75,263.8 530.08,264.09 530.4,263.95 530.72,263.59 531.04,263.54 531.35,263.87 531.66,264.1 531.97,263.89 532.28,263.55 532.58,263.57 532.87,263.93 533.17,264.1 533.46,263.83 533.75,263.52 534.04,263.62 534.32,263.98 534.6,264.08 534.88,263.77 535.15,263.5 535.42,263.67 535.69,264.03 535.96,264.05 536.23,263.7 536.49,263.5 536.75,263.74 537.01,263.9 541.01,264.3 544.21,263.8 548.61,263.53 551.71,264.1 555.31,264.22 558.11,263.62 562.31,263.65 565.31,264.24 568.81,264.06 571.61,263.52 575.61,263.84 578.81,264.3 583.21,263.86 586.31,263.51 597,264.9 601.5,265.4 608.5,266.1 625.1,274.2" fill="none" stroke="#03037a" stroke-width="1.0" stroke-linejoin="round" />
<circle cx="401.4" cy="261.8" r="2.6" fill="#03037a" />
<circle cx="421.32" cy="265.3" r="2.6" fill="#03037a" />
<circle cx="432.97" cy="264.6" r="2.6" fill="#03037a" />
<circle cx="441.24" cy="262.7" r="2.6" fill="#03037a" />
<circle cx="447.65" cy="264" r="2.6" fill="#03037a" />
<circle cx="452.89" cy="264.9" r="2.6" fill="#03037a" />
<circle cx="457.32" cy="263.6" r="2.6" fill="#03037a" />
<circle cx="461.16" cy="264.2" r="2.6" fill="#03037a" />
<circle cx="464.55" cy="263.3" r="2.6" fill="#03037a" />
<circle cx="467.57" cy="263.93" r="2.6" fill="#03037a" />
<circle cx="470.31" cy="264.1" r="2.6" fill="#03037a" />
<circle cx="472.81" cy="263.83" r="2.6" fill="#03037a" />
<circle cx="475.12" cy="263.52" r="2.6" fill="#03037a" />
<circle cx="477.25" cy="263.62" r="2.6" fill="#03037a" />
<circle cx="479.23" cy="263.98" r="2.6" fill="#03037a" />
<circle cx="481.08" cy="264.08" r="2.6" fill="#03037a" />
<circle cx="482.82" cy="263.77" r="2.6" fill="#03037a" />
<circle cx="484.47" cy="263.5" r="2.6" fill="#03037a" />
<circle cx="486.02" cy="263.67" r="2.6" fill="#03037a" />
<circle cx="487.5" cy="264.03" r="2.6" fill="#03037a" />
<circle cx="488.9" cy="264.05" r="2.6" fill="#03037a" />
<circle cx="490.23" cy="263.7" r="2.6" fill="#03037a" />
<circle cx="491.51" cy="263.5" r="2.6" fill="#03037a" />
<circle cx="492.74" cy="263.74" r="2.6" fill="#03037a" />
<circle cx="493.91" cy="264.07" r="2.6" fill="#03037a" />
<circle cx="495.04" cy="264.01" r="2.6" fill="#03037a" />
<circle cx="496.12" cy="263.65" r="2.6" fill="#03037a" />
<circle cx="497.17" cy="263.51" r="2.6" fill="#03037a" />
<circle cx="498.17" cy="263.8" r="2.6" fill="#03037a" />
<circle cx="499.15" cy="264.09" r="2.6" fill="#03037a" />
<circle cx="500.09" cy="263.95" r="2.6" fill="#03037a" />
<circle cx="501" cy="263.59" r="2.6" fill="#03037a" />
<circle cx="501.89" cy="263.54" r="2.6" fill="#03037a" />
<circle cx="502.75" cy="263.86" r="2.6" fill="#03037a" />
<circle cx="503.58" cy="264.1" r="2.6" fill="#03037a" />
<circle cx="504.39" cy="263.9" r="2.6" fill="#03037a" />
<circle cx="505.18" cy="263.55" r="2.6" fill="#03037a" />
<circle cx="505.94" cy="263.57" r="2.6" fill="#03037a" />
<circle cx="506.69" cy="263.93" r="2.6" fill="#03037a" />
<circle cx="507.42" cy="264.1" r="2.6" fill="#03037a" />
<circle cx="508.13" cy="263.83" r="2.6" fill="#03037a" />
<circle cx="508.82" cy="263.52" r="2.6" fill="#03037a" />
<circle cx="509.49" cy="263.62" r="2.6" fill="#03037a" />
<circle cx="510.16" cy="263.98" r="2.6" fill="#03037a" />
<circle cx="510.8" cy="264.08" r="2.6" fill="#03037a" />
<circle cx="511.43" cy="263.77" r="2.6" fill="#03037a" />
<circle cx="512.05" cy="263.5" r="2.6" fill="#03037a" />
<circle cx="512.66" cy="263.67" r="2.6" fill="#03037a" />
<circle cx="513.25" cy="264.03" r="2.6" fill="#03037a" />
<circle cx="513.83" cy="264.05" r="2.6" fill="#03037a" />
<circle cx="514.4" cy="263.7" r="2.6" fill="#03037a" />
<circle cx="514.96" cy="263.5" r="2.6" fill="#03037a" />
<circle cx="515.5" cy="263.74" r="2.6" fill="#03037a" />
<circle cx="516.04" cy="264.07" r="2.6" fill="#03037a" />
<circle cx="516.57" cy="264.01" r="2.6" fill="#03037a" />
<circle cx="517.09" cy="263.64" r="2.6" fill="#03037a" />
<circle cx="517.6" cy="263.51" r="2.6" fill="#03037a" />
<circle cx="518.09" cy="263.8" r="2.6" fill="#03037a" />
<circle cx="518.59" cy="264.09" r="2.6" fill="#03037a" />
<circle cx="519.07" cy="263.95" r="2.6" fill="#03037a" />
<circle cx="519.54" cy="263.59" r="2.6" fill="#03037a" />
<circle cx="520.01" cy="263.54" r="2.6" fill="#03037a" />
<circle cx="520.47" cy="263.87" r="2.6" fill="#03037a" />
<circle cx="520.92" cy="264.1" r="2.6" fill="#03037a" />
<circle cx="521.37" cy="263.9" r="2.6" fill="#03037a" />
<circle cx="521.81" cy="263.55" r="2.6" fill="#03037a" />
<circle cx="522.24" cy="263.57" r="2.6" fill="#03037a" />
<circle cx="522.67" cy="263.93" r="2.6" fill="#03037a" />
<circle cx="523.09" cy="264.1" r="2.6" fill="#03037a" />
<circle cx="523.5" cy="263.83" r="2.6" fill="#03037a" />
<circle cx="523.91" cy="263.52" r="2.6" fill="#03037a" />
<circle cx="524.31" cy="263.62" r="2.6" fill="#03037a" />
<circle cx="524.71" cy="263.98" r="2.6" fill="#03037a" />
<circle cx="525.1" cy="264.08" r="2.6" fill="#03037a" />
<circle cx="525.48" cy="263.77" r="2.6" fill="#03037a" />
<circle cx="525.86" cy="263.5" r="2.6" fill="#03037a" />
<circle cx="526.24" cy="263.67" r="2.6" fill="#03037a" />
<circle cx="526.61" cy="264.03" r="2.6" fill="#03037a" />
<circle cx="526.98" cy="264.05" r="2.6" fill="#03037a" />
<circle cx="527.34" cy="263.7" r="2.6" fill="#03037a" />
<circle cx="527.69" cy="263.5" r="2.6" fill="#03037a" />
<circle cx="528.05" cy="263.74" r="2.6" fill="#03037a" />
<circle cx="528.39" cy="264.07" r="2.6" fill="#03037a" />
<circle cx="528.74" cy="264.01" r="2.6" fill="#03037a" />
<circle cx="529.08" cy="263.64" r="2.6" fill="#03037a" />
<circle cx="529.42" cy="263.51" r="2.6" fill="#03037a" />
<circle cx="529.75" cy="263.8" r="2.6" fill="#03037a" />
<circle cx="530.08" cy="264.09" r="2.6" fill="#03037a" />
<circle cx="530.4" cy="263.95" r="2.6" fill="#03037a" />
<circle cx="530.72" cy="263.59" r="2.6" fill="#03037a" />
<circle cx="531.04" cy="263.54" r="2.6" fill="#03037a" />
<circle cx="531.35" cy="263.87" r="2.6" fill="#03037a" />
<circle cx="531.66" cy="264.1" r="2.6" fill="#03037a" />
<circle cx="531.97" cy="263.89" r="2.6" fill="#03037a" />
<circle cx="532.28" cy="263.55" r="2.6" fill="#03037a" />
<circle cx="532.58" cy="263.57" r="2.6" fill="#03037a" />
<circle cx="532.87" cy="263.93" r="2.6" fill="#03037a" />
<circle cx="533.17" cy="264.1" r="2.6" fill="#03037a" />
<circle cx="533.46" cy="263.83" r="2.6" fill="#03037a" />
<circle cx="533.75" cy="263.52" r="2.6" fill="#03037a" />
<circle cx="534.04" cy="263.62" r="2.6" fill="#03037a" />
<circle cx="534.32" cy="263.98" r="2.6" fill="#03037a" />
<circle cx="534.6" cy="264.08" r="2.6" fill="#03037a" />
<circle cx="534.88" cy="263.77" r="2.6" fill="#03037a" />
<circle cx="535.15" cy="263.5" r="2.6" fill="#03037a" />
<circle cx="535.42" cy="263.67" r="2.6" fill="#03037a" />
<circle cx="535.69" cy="264.03" r="2.6" fill="#03037a" />
<circle cx="535.96" cy="264.05" r="2.6" fill="#03037a" />
<circle cx="536.23" cy="263.7" r="2.6" fill="#03037a" />
<circle cx="536.49" cy="263.5" r="2.6" fill="#03037a" />
<circle cx="536.75" cy="263.74" r="2.6" fill="#03037a" />
<circle cx="537.01" cy="263.9" r="2.6" fill="#03037a" />
<circle cx="541.01" cy="264.3" r="2.6" fill="#03037a" />
<circle cx="544.21" cy="263.8" r="2.6" fill="#03037a" />
<circle cx="548.61" cy="263.53" r="2.6" fill="#03037a" />
<circle cx="551.71" cy="264.1" r="2.6" fill="#03037a" />
<circle cx="555.31" cy="264.22" r="2.6" fill="#03037a" />
<circle cx="558.11" cy="263.62" r="2.6" fill="#03037a" />
<circle cx="562.31" cy="263.65" r="2.6" fill="#03037a" />
<circle cx="565.31" cy="264.24" r="2.6" fill="#03037a" />
<circle cx="568.81" cy="264.06" r="2.6" fill="#03037a" />
<circle cx="571.61" cy="263.52" r="2.6" fill="#03037a" />
<circle cx="575.61" cy="263.84" r="2.6" fill="#03037a" />
<circle cx="578.81" cy="264.3" r="2.6" fill="#03037a" />
<circle cx="583.21" cy="263.86" r="2.6" fill="#03037a" />
<circle cx="586.31" cy="263.51" r="2.6" fill="#03037a" />
<circle cx="597" cy="264.9" r="2.6" fill="#03037a" />
<circle cx="601.5" cy="265.4" r="2.6" fill="#03037a" />
<circle cx="608.5" cy="266.1" r="2.6" fill="#03037a" />
<circle cx="625.1" cy="274.2" r="2.6" fill="#03037a" />
<g transform="translate(363.5,325.2) rotate(-90)" fill="#111"><polyline points="5.0,-10.6 1.2,-3.7 5.0,3.2" fill="none" stroke="#111" stroke-width="0.9"/><text x="6.4" y="0" font-family="Liberation Serif" font-style="italic" font-size="14">k</text><text x="14.6" y="2.4" font-family="Liberation Serif" font-size="11" textLength="10.2" lengthAdjust="spacingAndGlyphs">nn</text><text x="25.6" y="0" font-family="Liberation Serif" font-size="15.5">(</text><text x="31.6" y="0" font-family="Liberation Serif" font-style="italic" font-size="14">k</text><text x="39.6" y="0" font-family="Liberation Serif" font-size="15.5">)</text><polyline points="45.0,-10.6 48.8,-3.7 45.0,3.2" fill="none" stroke="#111" stroke-width="0.9"/></g>
<text x="533.2" y="400.8" font-family="Liberation Serif" font-size="14.5" text-anchor="middle" font-style="italic">k</text>
<text x="536" y="431.6" font-family="Liberation Sans" font-size="15.5" text-anchor="middle" textLength="17.8" lengthAdjust="spacingAndGlyphs">(d)</text>
<text x="426.9" y="357.4" font-family="Liberation Serif" font-size="16" text-anchor="start" textLength="53.2" lengthAdjust="spacingAndGlyphs">Internet</text>
<text x="453.6" y="251.3" font-family="Liberation Serif" font-size="16" text-anchor="start" textLength="31.5" lengthAdjust="spacingAndGlyphs">ME2</text>
<text x="571.3" y="251.9" font-family="Liberation Serif" font-size="16" text-anchor="start" textLength="31.9" lengthAdjust="spacingAndGlyphs">ME3</text>
<line x1="472.8" y1="247.5" x2="472.8" y2="252.4" stroke="#111" stroke-width="0.9" />
<polygon points="472.8,256.9 470.7,251.9 472.8,253.1 474.9,251.9" fill="#111"/>
<line x1="585.4" y1="249.5" x2="585.4" y2="256.7" stroke="#111" stroke-width="0.9" />
<polygon points="585.4,261.2 583.3,256.2 585.4,257.4 587.5,256.2" fill="#111"/>
<rect x="401.4" y="233.3" width="264.7" height="131.9" fill="none" stroke="#404040" stroke-width="1.3"/>
<line x1="401.4" y1="365.2" x2="401.4" y2="361.6" stroke="#404040" stroke-width="0.9" />
<line x1="401.4" y1="233.3" x2="401.4" y2="236.9" stroke="#404040" stroke-width="0.9" />
<line x1="421.32" y1="365.2" x2="421.32" y2="363.6" stroke="#404040" stroke-width="0.9" />
<line x1="421.32" y1="233.3" x2="421.32" y2="234.9" stroke="#404040" stroke-width="0.9" />
<line x1="432.97" y1="365.2" x2="432.97" y2="363.6" stroke="#404040" stroke-width="0.9" />
<line x1="432.97" y1="233.3" x2="432.97" y2="234.9" stroke="#404040" stroke-width="0.9" />
<line x1="441.24" y1="365.2" x2="441.24" y2="363.6" stroke="#404040" stroke-width="0.9" />
<line x1="441.24" y1="233.3" x2="441.24" y2="234.9" stroke="#404040" stroke-width="0.9" />
<line x1="447.65" y1="365.2" x2="447.65" y2="363.6" stroke="#404040" stroke-width="0.9" />
<line x1="447.65" y1="233.3" x2="447.65" y2="234.9" stroke="#404040" stroke-width="0.9" />
<line x1="452.89" y1="365.2" x2="452.89" y2="363.6" stroke="#404040" stroke-width="0.9" />
<line x1="452.89" y1="233.3" x2="452.89" y2="234.9" stroke="#404040" stroke-width="0.9" />
<line x1="457.32" y1="365.2" x2="457.32" y2="363.6" stroke="#404040" stroke-width="0.9" />
<line x1="457.32" y1="233.3" x2="457.32" y2="234.9" stroke="#404040" stroke-width="0.9" />
<line x1="461.16" y1="365.2" x2="461.16" y2="363.6" stroke="#404040" stroke-width="0.9" />
<line x1="461.16" y1="233.3" x2="461.16" y2="234.9" stroke="#404040" stroke-width="0.9" />
<line x1="464.55" y1="365.2" x2="464.55" y2="363.6" stroke="#404040" stroke-width="0.9" />
<line x1="464.55" y1="233.3" x2="464.55" y2="234.9" stroke="#404040" stroke-width="0.9" />
<line x1="467.57" y1="365.2" x2="467.57" y2="361.6" stroke="#404040" stroke-width="0.9" />
<line x1="467.57" y1="233.3" x2="467.57" y2="236.9" stroke="#404040" stroke-width="0.9" />
<line x1="487.5" y1="365.2" x2="487.5" y2="363.6" stroke="#404040" stroke-width="0.9" />
<line x1="487.5" y1="233.3" x2="487.5" y2="234.9" stroke="#404040" stroke-width="0.9" />
<line x1="499.15" y1="365.2" x2="499.15" y2="363.6" stroke="#404040" stroke-width="0.9" />
<line x1="499.15" y1="233.3" x2="499.15" y2="234.9" stroke="#404040" stroke-width="0.9" />
<line x1="507.42" y1="365.2" x2="507.42" y2="363.6" stroke="#404040" stroke-width="0.9" />
<line x1="507.42" y1="233.3" x2="507.42" y2="234.9" stroke="#404040" stroke-width="0.9" />
<line x1="513.83" y1="365.2" x2="513.83" y2="363.6" stroke="#404040" stroke-width="0.9" />
<line x1="513.83" y1="233.3" x2="513.83" y2="234.9" stroke="#404040" stroke-width="0.9" />
<line x1="519.07" y1="365.2" x2="519.07" y2="363.6" stroke="#404040" stroke-width="0.9" />
<line x1="519.07" y1="233.3" x2="519.07" y2="234.9" stroke="#404040" stroke-width="0.9" />
<line x1="523.5" y1="365.2" x2="523.5" y2="363.6" stroke="#404040" stroke-width="0.9" />
<line x1="523.5" y1="233.3" x2="523.5" y2="234.9" stroke="#404040" stroke-width="0.9" />
<line x1="527.34" y1="365.2" x2="527.34" y2="363.6" stroke="#404040" stroke-width="0.9" />
<line x1="527.34" y1="233.3" x2="527.34" y2="234.9" stroke="#404040" stroke-width="0.9" />
<line x1="530.72" y1="365.2" x2="530.72" y2="363.6" stroke="#404040" stroke-width="0.9" />
<line x1="530.72" y1="233.3" x2="530.72" y2="234.9" stroke="#404040" stroke-width="0.9" />
<line x1="533.75" y1="365.2" x2="533.75" y2="361.6" stroke="#404040" stroke-width="0.9" />
<line x1="533.75" y1="233.3" x2="533.75" y2="236.9" stroke="#404040" stroke-width="0.9" />
<line x1="553.67" y1="365.2" x2="553.67" y2="363.6" stroke="#404040" stroke-width="0.9" />
<line x1="553.67" y1="233.3" x2="553.67" y2="234.9" stroke="#404040" stroke-width="0.9" />
<line x1="565.32" y1="365.2" x2="565.32" y2="363.6" stroke="#404040" stroke-width="0.9" />
<line x1="565.32" y1="233.3" x2="565.32" y2="234.9" stroke="#404040" stroke-width="0.9" />
<line x1="573.59" y1="365.2" x2="573.59" y2="363.6" stroke="#404040" stroke-width="0.9" />
<line x1="573.59" y1="233.3" x2="573.59" y2="234.9" stroke="#404040" stroke-width="0.9" />
<line x1="580" y1="365.2" x2="580" y2="363.6" stroke="#404040" stroke-width="0.9" />
<line x1="580" y1="233.3" x2="580" y2="234.9" stroke="#404040" stroke-width="0.9" />
<line x1="585.24" y1="365.2" x2="585.24" y2="363.6" stroke="#404040" stroke-width="0.9" />
<line x1="585.24" y1="233.3" x2="585.24" y2="234.9" stroke="#404040" stroke-width="0.9" />
<line x1="589.67" y1="365.2" x2="589.67" y2="363.6" stroke="#404040" stroke-width="0.9" />
<line x1="589.67" y1="233.3" x2="589.67" y2="234.9" stroke="#404040" stroke-width="0.9" />
<line x1="593.51" y1="365.2" x2="593.51" y2="363.6" stroke="#404040" stroke-width="0.9" />
<line x1="593.51" y1="233.3" x2="593.51" y2="234.9" stroke="#404040" stroke-width="0.9" />
<line x1="596.9" y1="365.2" x2="596.9" y2="363.6" stroke="#404040" stroke-width="0.9" />
<line x1="596.9" y1="233.3" x2="596.9" y2="234.9" stroke="#404040" stroke-width="0.9" />
<line x1="599.92" y1="365.2" x2="599.92" y2="361.6" stroke="#404040" stroke-width="0.9" />
<line x1="599.92" y1="233.3" x2="599.92" y2="236.9" stroke="#404040" stroke-width="0.9" />
<line x1="619.85" y1="365.2" x2="619.85" y2="363.6" stroke="#404040" stroke-width="0.9" />
<line x1="619.85" y1="233.3" x2="619.85" y2="234.9" stroke="#404040" stroke-width="0.9" />
<line x1="631.5" y1="365.2" x2="631.5" y2="363.6" stroke="#404040" stroke-width="0.9" />
<line x1="631.5" y1="233.3" x2="631.5" y2="234.9" stroke="#404040" stroke-width="0.9" />
<line x1="639.77" y1="365.2" x2="639.77" y2="363.6" stroke="#404040" stroke-width="0.9" />
<line x1="639.77" y1="233.3" x2="639.77" y2="234.9" stroke="#404040" stroke-width="0.9" />
<line x1="646.18" y1="365.2" x2="646.18" y2="363.6" stroke="#404040" stroke-width="0.9" />
<line x1="646.18" y1="233.3" x2="646.18" y2="234.9" stroke="#404040" stroke-width="0.9" />
<line x1="651.42" y1="365.2" x2="651.42" y2="363.6" stroke="#404040" stroke-width="0.9" />
<line x1="651.42" y1="233.3" x2="651.42" y2="234.9" stroke="#404040" stroke-width="0.9" />
<line x1="655.85" y1="365.2" x2="655.85" y2="363.6" stroke="#404040" stroke-width="0.9" />
<line x1="655.85" y1="233.3" x2="655.85" y2="234.9" stroke="#404040" stroke-width="0.9" />
<line x1="659.69" y1="365.2" x2="659.69" y2="363.6" stroke="#404040" stroke-width="0.9" />
<line x1="659.69" y1="233.3" x2="659.69" y2="234.9" stroke="#404040" stroke-width="0.9" />
<line x1="663.07" y1="365.2" x2="663.07" y2="363.6" stroke="#404040" stroke-width="0.9" />
<line x1="663.07" y1="233.3" x2="663.07" y2="234.9" stroke="#404040" stroke-width="0.9" />
<line x1="401.4" y1="365.2" x2="405" y2="365.2" stroke="#404040" stroke-width="0.9" />
<line x1="666.1" y1="365.2" x2="662.5" y2="365.2" stroke="#404040" stroke-width="0.9" />
<line x1="401.4" y1="352.74" x2="403" y2="352.74" stroke="#404040" stroke-width="0.9" />
<line x1="666.1" y1="352.74" x2="664.5" y2="352.74" stroke="#404040" stroke-width="0.9" />
<line x1="401.4" y1="345.45" x2="403" y2="345.45" stroke="#404040" stroke-width="0.9" />
<line x1="666.1" y1="345.45" x2="664.5" y2="345.45" stroke="#404040" stroke-width="0.9" />
<line x1="401.4" y1="340.27" x2="403" y2="340.27" stroke="#404040" stroke-width="0.9" />
<line x1="666.1" y1="340.27" x2="664.5" y2="340.27" stroke="#404040" stroke-width="0.9" />
<line x1="401.4" y1="336.26" x2="403" y2="336.26" stroke="#404040" stroke-width="0.9" />
<line x1="666.1" y1="336.26" x2="664.5" y2="336.26" stroke="#404040" stroke-width="0.9" />
<line x1="401.4" y1="332.98" x2="403" y2="332.98" stroke="#404040" stroke-width="0.9" />
<line x1="666.1" y1="332.98" x2="664.5" y2="332.98" stroke="#404040" stroke-width="0.9" />
<line x1="401.4" y1="330.21" x2="403" y2="330.21" stroke="#404040" stroke-width="0.9" />
<line x1="666.1" y1="330.21" x2="664.5" y2="330.21" stroke="#404040" stroke-width="0.9" />
<line x1="401.4" y1="327.81" x2="403" y2="327.81" stroke="#404040" stroke-width="0.9" />
<line x1="666.1" y1="327.81" x2="664.5" y2="327.81" stroke="#404040" stroke-width="0.9" />
<line x1="401.4" y1="325.69" x2="403" y2="325.69" stroke="#404040" stroke-width="0.9" />
<line x1="666.1" y1="325.69" x2="664.5" y2="325.69" stroke="#404040" stroke-width="0.9" />
<line x1="401.4" y1="323.8" x2="405" y2="323.8" stroke="#404040" stroke-width="0.9" />
<line x1="666.1" y1="323.8" x2="662.5" y2="323.8" stroke="#404040" stroke-width="0.9" />
<line x1="401.4" y1="311.34" x2="403" y2="311.34" stroke="#404040" stroke-width="0.9" />
<line x1="666.1" y1="311.34" x2="664.5" y2="311.34" stroke="#404040" stroke-width="0.9" />
<line x1="401.4" y1="304.05" x2="403" y2="304.05" stroke="#404040" stroke-width="0.9" />
<line x1="666.1" y1="304.05" x2="664.5" y2="304.05" stroke="#404040" stroke-width="0.9" />
<line x1="401.4" y1="298.87" x2="403" y2="298.87" stroke="#404040" stroke-width="0.9" />
<line x1="666.1" y1="298.87" x2="664.5" y2="298.87" stroke="#404040" stroke-width="0.9" />
<line x1="401.4" y1="294.86" x2="403" y2="294.86" stroke="#404040" stroke-width="0.9" />
<line x1="666.1" y1="294.86" x2="664.5" y2="294.86" stroke="#404040" stroke-width="0.9" />
<line x1="401.4" y1="291.58" x2="403" y2="291.58" stroke="#404040" stroke-width="0.9" />
<line x1="666.1" y1="291.58" x2="664.5" y2="291.58" stroke="#404040" stroke-width="0.9" />
<line x1="401.4" y1="288.81" x2="403" y2="288.81" stroke="#404040" stroke-width="0.9" />
<line x1="666.1" y1="288.81" x2="664.5" y2="288.81" stroke="#404040" stroke-width="0.9" />
<line x1="401.4" y1="286.41" x2="403" y2="286.41" stroke="#404040" stroke-width="0.9" />
<line x1="666.1" y1="286.41" x2="664.5" y2="286.41" stroke="#404040" stroke-width="0.9" />
<line x1="401.4" y1="284.29" x2="403" y2="284.29" stroke="#404040" stroke-width="0.9" />
<line x1="666.1" y1="284.29" x2="664.5" y2="284.29" stroke="#404040" stroke-width="0.9" />
<line x1="401.4" y1="282.4" x2="405" y2="282.4" stroke="#404040" stroke-width="0.9" />
<line x1="666.1" y1="282.4" x2="662.5" y2="282.4" stroke="#404040" stroke-width="0.9" />
<line x1="401.4" y1="269.94" x2="403" y2="269.94" stroke="#404040" stroke-width="0.9" />
<line x1="666.1" y1="269.94" x2="664.5" y2="269.94" stroke="#404040" stroke-width="0.9" />
<line x1="401.4" y1="262.65" x2="403" y2="262.65" stroke="#404040" stroke-width="0.9" />
<line x1="666.1" y1="262.65" x2="664.5" y2="262.65" stroke="#404040" stroke-width="0.9" />
<line x1="401.4" y1="257.47" x2="403" y2="257.47" stroke="#404040" stroke-width="0.9" />
<line x1="666.1" y1="257.47" x2="664.5" y2="257.47" stroke="#404040" stroke-width="0.9" />
<line x1="401.4" y1="253.46" x2="403" y2="253.46" stroke="#404040" stroke-width="0.9" />
<line x1="666.1" y1="253.46" x2="664.5" y2="253.46" stroke="#404040" stroke-width="0.9" />
<line x1="401.4" y1="250.18" x2="403" y2="250.18" stroke="#404040" stroke-width="0.9" />
<line x1="666.1" y1="250.18" x2="664.5" y2="250.18" stroke="#404040" stroke-width="0.9" />
<line x1="401.4" y1="247.41" x2="403" y2="247.41" stroke="#404040" stroke-width="0.9" />
<line x1="666.1" y1="247.41" x2="664.5" y2="247.41" stroke="#404040" stroke-width="0.9" />
<line x1="401.4" y1="245.01" x2="403" y2="245.01" stroke="#404040" stroke-width="0.9" />
<line x1="666.1" y1="245.01" x2="664.5" y2="245.01" stroke="#404040" stroke-width="0.9" />
<line x1="401.4" y1="242.89" x2="403" y2="242.89" stroke="#404040" stroke-width="0.9" />
<line x1="666.1" y1="242.89" x2="664.5" y2="242.89" stroke="#404040" stroke-width="0.9" />
<line x1="401.4" y1="241" x2="405" y2="241" stroke="#404040" stroke-width="0.9" />
<line x1="666.1" y1="241" x2="662.5" y2="241" stroke="#404040" stroke-width="0.9" />
<text x="401.4" y="380.1" font-family="Liberation Serif" font-size="15.2" text-anchor="middle" textLength="8.0" lengthAdjust="spacingAndGlyphs">1</text>
<text x="467.57" y="380.1" font-family="Liberation Serif" font-size="15.2" text-anchor="middle" textLength="16.0" lengthAdjust="spacingAndGlyphs">10</text>
<text x="533.75" y="380.1" font-family="Liberation Serif" font-size="15.2" text-anchor="middle" textLength="24.0" lengthAdjust="spacingAndGlyphs">100</text>
<text x="599.92" y="380.1" font-family="Liberation Serif" font-size="15.2" text-anchor="middle" textLength="32.0" lengthAdjust="spacingAndGlyphs">1000</text>
<text x="666.1" y="380.1" font-family="Liberation Serif" font-size="15.2" text-anchor="middle" textLength="40.0" lengthAdjust="spacingAndGlyphs">10000</text>
<text x="397" y="370.4" font-family="Liberation Serif" font-size="15.2" text-anchor="end" textLength="8.0" lengthAdjust="spacingAndGlyphs">1</text>
<text x="397" y="329" font-family="Liberation Serif" font-size="15.2" text-anchor="end" textLength="16.0" lengthAdjust="spacingAndGlyphs">10</text>
<text x="397" y="287.6" font-family="Liberation Serif" font-size="15.2" text-anchor="end" textLength="24.0" lengthAdjust="spacingAndGlyphs">100</text>
<text x="397" y="246.2" font-family="Liberation Serif" font-size="15.2" text-anchor="end" textLength="32.0" lengthAdjust="spacingAndGlyphs">1000</text>
</svg>
</body></html>
